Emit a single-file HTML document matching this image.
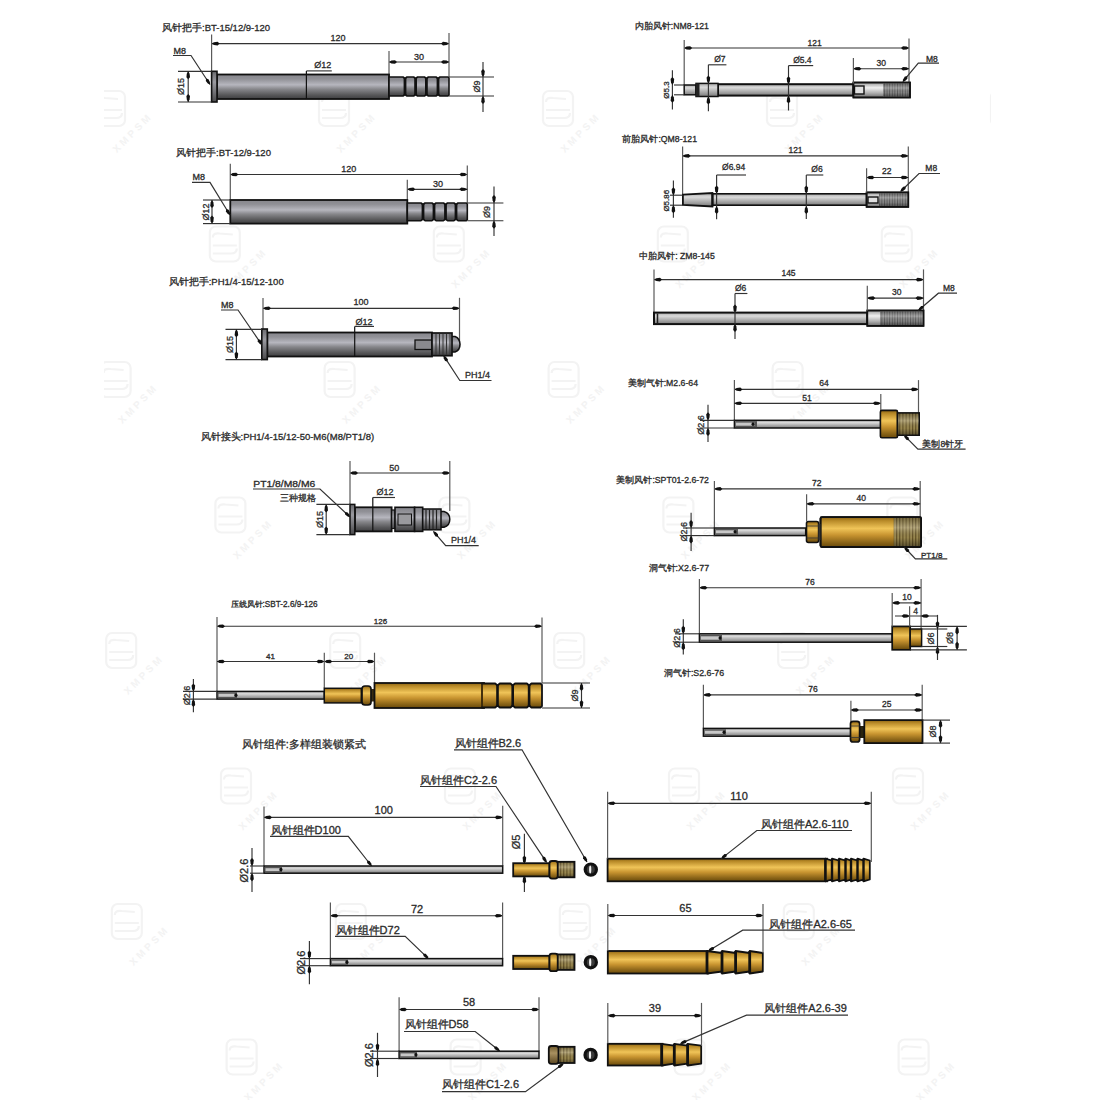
<!DOCTYPE html><html><head><meta charset="utf-8"><style>html,body{margin:0;padding:0;background:#fff;}svg{display:block;}</style></head><body>
<svg width="1100" height="1100" viewBox="0 0 1100 1100" font-family='"Liberation Sans", sans-serif'>
<defs>
<linearGradient id="gR" x1="0" y1="0" x2="0" y2="1">
<stop offset="0" stop-color="#86868c"/><stop offset="0.18" stop-color="#909096"/><stop offset="0.42" stop-color="#b6b6be"/><stop offset="0.6" stop-color="#86868a"/><stop offset="0.85" stop-color="#555557"/><stop offset="1" stop-color="#3e3e40"/></linearGradient>
<linearGradient id="gTL" x1="0" y1="0" x2="0" y2="1">
<stop offset="0" stop-color="#9a9a9a"/><stop offset="0.35" stop-color="#f0f0f0"/><stop offset="0.7" stop-color="#b0b0b0"/><stop offset="1" stop-color="#6a6a6a"/></linearGradient>
<pattern id="pTh" width="2.6" height="20" patternUnits="userSpaceOnUse"><rect width="2.6" height="20" fill="#8e8e8e"/><rect width="1" height="20" fill="#5e5e5e"/></pattern>
<pattern id="pThG" width="3.2" height="40" patternUnits="userSpaceOnUse"><rect width="3.2" height="40" fill="#a08e54"/><rect width="1.1" height="40" fill="#665426"/></pattern>
<linearGradient id="gShade" x1="0" y1="0" x2="0" y2="1">
<stop offset="0" stop-color="#000" stop-opacity="0.25"/><stop offset="0.35" stop-color="#fff" stop-opacity="0.25"/><stop offset="0.7" stop-color="#000" stop-opacity="0.05"/><stop offset="1" stop-color="#000" stop-opacity="0.4"/></linearGradient>
<linearGradient id="gRT" x1="0" y1="0" x2="0" y2="1">
<stop offset="0" stop-color="#6a6a6e"/><stop offset="0.35" stop-color="#9a9aa0"/><stop offset="1" stop-color="#4a4a4c"/></linearGradient>
<linearGradient id="gN" x1="0" y1="0" x2="0" y2="1">
<stop offset="0" stop-color="#a8a8a8"/><stop offset="0.3" stop-color="#dadada"/><stop offset="0.7" stop-color="#a4a4a4"/><stop offset="1" stop-color="#7a7a7a"/></linearGradient>
<linearGradient id="gND" x1="0" y1="0" x2="0" y2="1">
<stop offset="0" stop-color="#666"/><stop offset="0.5" stop-color="#999"/><stop offset="1" stop-color="#555"/></linearGradient>
<linearGradient id="gG" x1="0" y1="0" x2="0" y2="1">
<stop offset="0" stop-color="#8c6414"/><stop offset="0.12" stop-color="#b88a28"/><stop offset="0.38" stop-color="#f0c458"/><stop offset="0.6" stop-color="#c89430"/><stop offset="0.85" stop-color="#8a6418"/><stop offset="1" stop-color="#6a4a0a"/></linearGradient>
<linearGradient id="gT" x1="0" y1="0" x2="0" y2="1">
<stop offset="0" stop-color="#6f5a2c"/><stop offset="0.4" stop-color="#a89060"/><stop offset="1" stop-color="#5a4620"/></linearGradient>
</defs>
<rect width="1100" height="1100" fill="#fff"/>
<clipPath id="wmclip"><rect x="104" y="0" width="887" height="1100"/></clipPath><g clip-path="url(#wmclip)">
<g stroke="#f3f3f3" stroke-width="2.2" fill="none"><rect x="95.0" y="91.0" width="30" height="35" rx="6"/><path d="M98.0,102.0 Q98.0,97.0 105.0,98.0 L118.0,99.0 M98.0,110.0 L122.0,110.0 M98.0,118.0 L116.0,118.0 Q122.0,118.0 122.0,113.0"/></g>
<text x="135.0" y="135.0" font-size="10" font-weight="bold" fill="#f3f3f3" text-anchor="middle" letter-spacing="3" transform="rotate(-45 135.0 135.0)">XMPSM</text>
<g stroke="#f3f3f3" stroke-width="2.2" fill="none"><rect x="319.0" y="91.0" width="30" height="35" rx="6"/><path d="M322.0,102.0 Q322.0,97.0 329.0,98.0 L342.0,99.0 M322.0,110.0 L346.0,110.0 M322.0,118.0 L340.0,118.0 Q346.0,118.0 346.0,113.0"/></g>
<text x="359.0" y="135.0" font-size="10" font-weight="bold" fill="#f3f3f3" text-anchor="middle" letter-spacing="3" transform="rotate(-45 359.0 135.0)">XMPSM</text>
<g stroke="#f3f3f3" stroke-width="2.2" fill="none"><rect x="543.0" y="91.0" width="30" height="35" rx="6"/><path d="M546.0,102.0 Q546.0,97.0 553.0,98.0 L566.0,99.0 M546.0,110.0 L570.0,110.0 M546.0,118.0 L564.0,118.0 Q570.0,118.0 570.0,113.0"/></g>
<text x="583.0" y="135.0" font-size="10" font-weight="bold" fill="#f3f3f3" text-anchor="middle" letter-spacing="3" transform="rotate(-45 583.0 135.0)">XMPSM</text>
<g stroke="#f3f3f3" stroke-width="2.2" fill="none"><rect x="767.0" y="91.0" width="30" height="35" rx="6"/><path d="M770.0,102.0 Q770.0,97.0 777.0,98.0 L790.0,99.0 M770.0,110.0 L794.0,110.0 M770.0,118.0 L788.0,118.0 Q794.0,118.0 794.0,113.0"/></g>
<text x="807.0" y="135.0" font-size="10" font-weight="bold" fill="#f3f3f3" text-anchor="middle" letter-spacing="3" transform="rotate(-45 807.0 135.0)">XMPSM</text>
<g stroke="#f3f3f3" stroke-width="2.2" fill="none"><rect x="991.0" y="91.0" width="30" height="35" rx="6"/><path d="M994.0,102.0 Q994.0,97.0 1001.0,98.0 L1014.0,99.0 M994.0,110.0 L1018.0,110.0 M994.0,118.0 L1012.0,118.0 Q1018.0,118.0 1018.0,113.0"/></g>
<text x="1031.0" y="135.0" font-size="10" font-weight="bold" fill="#f3f3f3" text-anchor="middle" letter-spacing="3" transform="rotate(-45 1031.0 135.0)">XMPSM</text>
<g stroke="#f3f3f3" stroke-width="2.2" fill="none"><rect x="209.8" y="226.5" width="30" height="35" rx="6"/><path d="M212.8,237.5 Q212.8,232.5 219.8,233.5 L232.8,234.5 M212.8,245.5 L236.8,245.5 M212.8,253.5 L230.8,253.5 Q236.8,253.5 236.8,248.5"/></g>
<text x="249.8" y="270.5" font-size="10" font-weight="bold" fill="#f3f3f3" text-anchor="middle" letter-spacing="3" transform="rotate(-45 249.8 270.5)">XMPSM</text>
<g stroke="#f3f3f3" stroke-width="2.2" fill="none"><rect x="433.8" y="226.5" width="30" height="35" rx="6"/><path d="M436.8,237.5 Q436.8,232.5 443.8,233.5 L456.8,234.5 M436.8,245.5 L460.8,245.5 M436.8,253.5 L454.8,253.5 Q460.8,253.5 460.8,248.5"/></g>
<text x="473.8" y="270.5" font-size="10" font-weight="bold" fill="#f3f3f3" text-anchor="middle" letter-spacing="3" transform="rotate(-45 473.8 270.5)">XMPSM</text>
<g stroke="#f3f3f3" stroke-width="2.2" fill="none"><rect x="657.8" y="226.5" width="30" height="35" rx="6"/><path d="M660.8,237.5 Q660.8,232.5 667.8,233.5 L680.8,234.5 M660.8,245.5 L684.8,245.5 M660.8,253.5 L678.8,253.5 Q684.8,253.5 684.8,248.5"/></g>
<text x="697.8" y="270.5" font-size="10" font-weight="bold" fill="#f3f3f3" text-anchor="middle" letter-spacing="3" transform="rotate(-45 697.8 270.5)">XMPSM</text>
<g stroke="#f3f3f3" stroke-width="2.2" fill="none"><rect x="881.8" y="226.5" width="30" height="35" rx="6"/><path d="M884.8,237.5 Q884.8,232.5 891.8,233.5 L904.8,234.5 M884.8,245.5 L908.8,245.5 M884.8,253.5 L902.8,253.5 Q908.8,253.5 908.8,248.5"/></g>
<text x="921.8" y="270.5" font-size="10" font-weight="bold" fill="#f3f3f3" text-anchor="middle" letter-spacing="3" transform="rotate(-45 921.8 270.5)">XMPSM</text>
<g stroke="#f3f3f3" stroke-width="2.2" fill="none"><rect x="100.6" y="362.0" width="30" height="35" rx="6"/><path d="M103.6,373.0 Q103.6,368.0 110.6,369.0 L123.6,370.0 M103.6,381.0 L127.6,381.0 M103.6,389.0 L121.6,389.0 Q127.6,389.0 127.6,384.0"/></g>
<text x="140.6" y="406.0" font-size="10" font-weight="bold" fill="#f3f3f3" text-anchor="middle" letter-spacing="3" transform="rotate(-45 140.6 406.0)">XMPSM</text>
<g stroke="#f3f3f3" stroke-width="2.2" fill="none"><rect x="324.6" y="362.0" width="30" height="35" rx="6"/><path d="M327.6,373.0 Q327.6,368.0 334.6,369.0 L347.6,370.0 M327.6,381.0 L351.6,381.0 M327.6,389.0 L345.6,389.0 Q351.6,389.0 351.6,384.0"/></g>
<text x="364.6" y="406.0" font-size="10" font-weight="bold" fill="#f3f3f3" text-anchor="middle" letter-spacing="3" transform="rotate(-45 364.6 406.0)">XMPSM</text>
<g stroke="#f3f3f3" stroke-width="2.2" fill="none"><rect x="548.6" y="362.0" width="30" height="35" rx="6"/><path d="M551.6,373.0 Q551.6,368.0 558.6,369.0 L571.6,370.0 M551.6,381.0 L575.6,381.0 M551.6,389.0 L569.6,389.0 Q575.6,389.0 575.6,384.0"/></g>
<text x="588.6" y="406.0" font-size="10" font-weight="bold" fill="#f3f3f3" text-anchor="middle" letter-spacing="3" transform="rotate(-45 588.6 406.0)">XMPSM</text>
<g stroke="#f3f3f3" stroke-width="2.2" fill="none"><rect x="772.6" y="362.0" width="30" height="35" rx="6"/><path d="M775.6,373.0 Q775.6,368.0 782.6,369.0 L795.6,370.0 M775.6,381.0 L799.6,381.0 M775.6,389.0 L793.6,389.0 Q799.6,389.0 799.6,384.0"/></g>
<text x="812.6" y="406.0" font-size="10" font-weight="bold" fill="#f3f3f3" text-anchor="middle" letter-spacing="3" transform="rotate(-45 812.6 406.0)">XMPSM</text>
<g stroke="#f3f3f3" stroke-width="2.2" fill="none"><rect x="996.6" y="362.0" width="30" height="35" rx="6"/><path d="M999.6,373.0 Q999.6,368.0 1006.6,369.0 L1019.6,370.0 M999.6,381.0 L1023.6,381.0 M999.6,389.0 L1017.6,389.0 Q1023.6,389.0 1023.6,384.0"/></g>
<text x="1036.6" y="406.0" font-size="10" font-weight="bold" fill="#f3f3f3" text-anchor="middle" letter-spacing="3" transform="rotate(-45 1036.6 406.0)">XMPSM</text>
<g stroke="#f3f3f3" stroke-width="2.2" fill="none"><rect x="215.4" y="497.5" width="30" height="35" rx="6"/><path d="M218.4,508.5 Q218.4,503.5 225.4,504.5 L238.4,505.5 M218.4,516.5 L242.4,516.5 M218.4,524.5 L236.4,524.5 Q242.4,524.5 242.4,519.5"/></g>
<text x="255.4" y="541.5" font-size="10" font-weight="bold" fill="#f3f3f3" text-anchor="middle" letter-spacing="3" transform="rotate(-45 255.4 541.5)">XMPSM</text>
<g stroke="#f3f3f3" stroke-width="2.2" fill="none"><rect x="439.4" y="497.5" width="30" height="35" rx="6"/><path d="M442.4,508.5 Q442.4,503.5 449.4,504.5 L462.4,505.5 M442.4,516.5 L466.4,516.5 M442.4,524.5 L460.4,524.5 Q466.4,524.5 466.4,519.5"/></g>
<text x="479.4" y="541.5" font-size="10" font-weight="bold" fill="#f3f3f3" text-anchor="middle" letter-spacing="3" transform="rotate(-45 479.4 541.5)">XMPSM</text>
<g stroke="#f3f3f3" stroke-width="2.2" fill="none"><rect x="663.4" y="497.5" width="30" height="35" rx="6"/><path d="M666.4,508.5 Q666.4,503.5 673.4,504.5 L686.4,505.5 M666.4,516.5 L690.4,516.5 M666.4,524.5 L684.4,524.5 Q690.4,524.5 690.4,519.5"/></g>
<text x="703.4" y="541.5" font-size="10" font-weight="bold" fill="#f3f3f3" text-anchor="middle" letter-spacing="3" transform="rotate(-45 703.4 541.5)">XMPSM</text>
<g stroke="#f3f3f3" stroke-width="2.2" fill="none"><rect x="887.4" y="497.5" width="30" height="35" rx="6"/><path d="M890.4,508.5 Q890.4,503.5 897.4,504.5 L910.4,505.5 M890.4,516.5 L914.4,516.5 M890.4,524.5 L908.4,524.5 Q914.4,524.5 914.4,519.5"/></g>
<text x="927.4" y="541.5" font-size="10" font-weight="bold" fill="#f3f3f3" text-anchor="middle" letter-spacing="3" transform="rotate(-45 927.4 541.5)">XMPSM</text>
<g stroke="#f3f3f3" stroke-width="2.2" fill="none"><rect x="106.2" y="633.0" width="30" height="35" rx="6"/><path d="M109.2,644.0 Q109.2,639.0 116.2,640.0 L129.2,641.0 M109.2,652.0 L133.2,652.0 M109.2,660.0 L127.2,660.0 Q133.2,660.0 133.2,655.0"/></g>
<text x="146.2" y="677.0" font-size="10" font-weight="bold" fill="#f3f3f3" text-anchor="middle" letter-spacing="3" transform="rotate(-45 146.2 677.0)">XMPSM</text>
<g stroke="#f3f3f3" stroke-width="2.2" fill="none"><rect x="330.2" y="633.0" width="30" height="35" rx="6"/><path d="M333.2,644.0 Q333.2,639.0 340.2,640.0 L353.2,641.0 M333.2,652.0 L357.2,652.0 M333.2,660.0 L351.2,660.0 Q357.2,660.0 357.2,655.0"/></g>
<text x="370.2" y="677.0" font-size="10" font-weight="bold" fill="#f3f3f3" text-anchor="middle" letter-spacing="3" transform="rotate(-45 370.2 677.0)">XMPSM</text>
<g stroke="#f3f3f3" stroke-width="2.2" fill="none"><rect x="554.2" y="633.0" width="30" height="35" rx="6"/><path d="M557.2,644.0 Q557.2,639.0 564.2,640.0 L577.2,641.0 M557.2,652.0 L581.2,652.0 M557.2,660.0 L575.2,660.0 Q581.2,660.0 581.2,655.0"/></g>
<text x="594.2" y="677.0" font-size="10" font-weight="bold" fill="#f3f3f3" text-anchor="middle" letter-spacing="3" transform="rotate(-45 594.2 677.0)">XMPSM</text>
<g stroke="#f3f3f3" stroke-width="2.2" fill="none"><rect x="778.2" y="633.0" width="30" height="35" rx="6"/><path d="M781.2,644.0 Q781.2,639.0 788.2,640.0 L801.2,641.0 M781.2,652.0 L805.2,652.0 M781.2,660.0 L799.2,660.0 Q805.2,660.0 805.2,655.0"/></g>
<text x="818.2" y="677.0" font-size="10" font-weight="bold" fill="#f3f3f3" text-anchor="middle" letter-spacing="3" transform="rotate(-45 818.2 677.0)">XMPSM</text>
<g stroke="#f3f3f3" stroke-width="2.2" fill="none"><rect x="1002.2" y="633.0" width="30" height="35" rx="6"/><path d="M1005.2,644.0 Q1005.2,639.0 1012.2,640.0 L1025.2,641.0 M1005.2,652.0 L1029.2,652.0 M1005.2,660.0 L1023.2,660.0 Q1029.2,660.0 1029.2,655.0"/></g>
<text x="1042.2" y="677.0" font-size="10" font-weight="bold" fill="#f3f3f3" text-anchor="middle" letter-spacing="3" transform="rotate(-45 1042.2 677.0)">XMPSM</text>
<g stroke="#f3f3f3" stroke-width="2.2" fill="none"><rect x="221.0" y="768.5" width="30" height="35" rx="6"/><path d="M224.0,779.5 Q224.0,774.5 231.0,775.5 L244.0,776.5 M224.0,787.5 L248.0,787.5 M224.0,795.5 L242.0,795.5 Q248.0,795.5 248.0,790.5"/></g>
<text x="261.0" y="812.5" font-size="10" font-weight="bold" fill="#f3f3f3" text-anchor="middle" letter-spacing="3" transform="rotate(-45 261.0 812.5)">XMPSM</text>
<g stroke="#f3f3f3" stroke-width="2.2" fill="none"><rect x="445.0" y="768.5" width="30" height="35" rx="6"/><path d="M448.0,779.5 Q448.0,774.5 455.0,775.5 L468.0,776.5 M448.0,787.5 L472.0,787.5 M448.0,795.5 L466.0,795.5 Q472.0,795.5 472.0,790.5"/></g>
<text x="485.0" y="812.5" font-size="10" font-weight="bold" fill="#f3f3f3" text-anchor="middle" letter-spacing="3" transform="rotate(-45 485.0 812.5)">XMPSM</text>
<g stroke="#f3f3f3" stroke-width="2.2" fill="none"><rect x="669.0" y="768.5" width="30" height="35" rx="6"/><path d="M672.0,779.5 Q672.0,774.5 679.0,775.5 L692.0,776.5 M672.0,787.5 L696.0,787.5 M672.0,795.5 L690.0,795.5 Q696.0,795.5 696.0,790.5"/></g>
<text x="709.0" y="812.5" font-size="10" font-weight="bold" fill="#f3f3f3" text-anchor="middle" letter-spacing="3" transform="rotate(-45 709.0 812.5)">XMPSM</text>
<g stroke="#f3f3f3" stroke-width="2.2" fill="none"><rect x="893.0" y="768.5" width="30" height="35" rx="6"/><path d="M896.0,779.5 Q896.0,774.5 903.0,775.5 L916.0,776.5 M896.0,787.5 L920.0,787.5 M896.0,795.5 L914.0,795.5 Q920.0,795.5 920.0,790.5"/></g>
<text x="933.0" y="812.5" font-size="10" font-weight="bold" fill="#f3f3f3" text-anchor="middle" letter-spacing="3" transform="rotate(-45 933.0 812.5)">XMPSM</text>
<g stroke="#f3f3f3" stroke-width="2.2" fill="none"><rect x="111.8" y="904.0" width="30" height="35" rx="6"/><path d="M114.8,915.0 Q114.8,910.0 121.8,911.0 L134.8,912.0 M114.8,923.0 L138.8,923.0 M114.8,931.0 L132.8,931.0 Q138.8,931.0 138.8,926.0"/></g>
<text x="151.8" y="948.0" font-size="10" font-weight="bold" fill="#f3f3f3" text-anchor="middle" letter-spacing="3" transform="rotate(-45 151.8 948.0)">XMPSM</text>
<g stroke="#f3f3f3" stroke-width="2.2" fill="none"><rect x="335.8" y="904.0" width="30" height="35" rx="6"/><path d="M338.8,915.0 Q338.8,910.0 345.8,911.0 L358.8,912.0 M338.8,923.0 L362.8,923.0 M338.8,931.0 L356.8,931.0 Q362.8,931.0 362.8,926.0"/></g>
<text x="375.8" y="948.0" font-size="10" font-weight="bold" fill="#f3f3f3" text-anchor="middle" letter-spacing="3" transform="rotate(-45 375.8 948.0)">XMPSM</text>
<g stroke="#f3f3f3" stroke-width="2.2" fill="none"><rect x="559.8" y="904.0" width="30" height="35" rx="6"/><path d="M562.8,915.0 Q562.8,910.0 569.8,911.0 L582.8,912.0 M562.8,923.0 L586.8,923.0 M562.8,931.0 L580.8,931.0 Q586.8,931.0 586.8,926.0"/></g>
<text x="599.8" y="948.0" font-size="10" font-weight="bold" fill="#f3f3f3" text-anchor="middle" letter-spacing="3" transform="rotate(-45 599.8 948.0)">XMPSM</text>
<g stroke="#f3f3f3" stroke-width="2.2" fill="none"><rect x="783.8" y="904.0" width="30" height="35" rx="6"/><path d="M786.8,915.0 Q786.8,910.0 793.8,911.0 L806.8,912.0 M786.8,923.0 L810.8,923.0 M786.8,931.0 L804.8,931.0 Q810.8,931.0 810.8,926.0"/></g>
<text x="823.8" y="948.0" font-size="10" font-weight="bold" fill="#f3f3f3" text-anchor="middle" letter-spacing="3" transform="rotate(-45 823.8 948.0)">XMPSM</text>
<g stroke="#f3f3f3" stroke-width="2.2" fill="none"><rect x="1007.8" y="904.0" width="30" height="35" rx="6"/><path d="M1010.8,915.0 Q1010.8,910.0 1017.8,911.0 L1030.8,912.0 M1010.8,923.0 L1034.8,923.0 M1010.8,931.0 L1028.8,931.0 Q1034.8,931.0 1034.8,926.0"/></g>
<text x="1047.8" y="948.0" font-size="10" font-weight="bold" fill="#f3f3f3" text-anchor="middle" letter-spacing="3" transform="rotate(-45 1047.8 948.0)">XMPSM</text>
<g stroke="#f3f3f3" stroke-width="2.2" fill="none"><rect x="226.6" y="1039.5" width="30" height="35" rx="6"/><path d="M229.6,1050.5 Q229.6,1045.5 236.6,1046.5 L249.6,1047.5 M229.6,1058.5 L253.6,1058.5 M229.6,1066.5 L247.6,1066.5 Q253.6,1066.5 253.6,1061.5"/></g>
<text x="266.6" y="1083.5" font-size="10" font-weight="bold" fill="#f3f3f3" text-anchor="middle" letter-spacing="3" transform="rotate(-45 266.6 1083.5)">XMPSM</text>
<g stroke="#f3f3f3" stroke-width="2.2" fill="none"><rect x="450.6" y="1039.5" width="30" height="35" rx="6"/><path d="M453.6,1050.5 Q453.6,1045.5 460.6,1046.5 L473.6,1047.5 M453.6,1058.5 L477.6,1058.5 M453.6,1066.5 L471.6,1066.5 Q477.6,1066.5 477.6,1061.5"/></g>
<text x="490.6" y="1083.5" font-size="10" font-weight="bold" fill="#f3f3f3" text-anchor="middle" letter-spacing="3" transform="rotate(-45 490.6 1083.5)">XMPSM</text>
<g stroke="#f3f3f3" stroke-width="2.2" fill="none"><rect x="674.6" y="1039.5" width="30" height="35" rx="6"/><path d="M677.6,1050.5 Q677.6,1045.5 684.6,1046.5 L697.6,1047.5 M677.6,1058.5 L701.6,1058.5 M677.6,1066.5 L695.6,1066.5 Q701.6,1066.5 701.6,1061.5"/></g>
<text x="714.6" y="1083.5" font-size="10" font-weight="bold" fill="#f3f3f3" text-anchor="middle" letter-spacing="3" transform="rotate(-45 714.6 1083.5)">XMPSM</text>
<g stroke="#f3f3f3" stroke-width="2.2" fill="none"><rect x="898.6" y="1039.5" width="30" height="35" rx="6"/><path d="M901.6,1050.5 Q901.6,1045.5 908.6,1046.5 L921.6,1047.5 M901.6,1058.5 L925.6,1058.5 M901.6,1066.5 L919.6,1066.5 Q925.6,1066.5 925.6,1061.5"/></g>
<text x="938.6" y="1083.5" font-size="10" font-weight="bold" fill="#f3f3f3" text-anchor="middle" letter-spacing="3" transform="rotate(-45 938.6 1083.5)">XMPSM</text>
</g>
<text x="162" y="30.5" font-size="9.5" text-anchor="start" fill="#2a2a2a" stroke="#2a2a2a" stroke-width="0.3">风针把手:BT-15/12/9-120</text>
<line x1="211.6" y1="43.6" x2="449" y2="43.6" stroke="#333" stroke-width="1.15"/>
<polygon points="211.6,43.6 214.0,42.2 217.6,41.8 219.6,43.6 217.6,45.4 214.0,45.0" fill="#111"/>
<polygon points="449.0,43.6 446.6,45.0 443.0,45.4 441.0,43.6 443.0,41.8 446.6,42.2" fill="#111"/>
<text x="338" y="41" font-size="9" text-anchor="middle" fill="#2a2a2a" stroke="#2a2a2a" stroke-width="0.3">120</text>
<line x1="211.6" y1="34.5" x2="211.6" y2="71" stroke="#5a5a5a" stroke-width="1.2"/>
<line x1="449" y1="33" x2="449" y2="77" stroke="#5a5a5a" stroke-width="1.2"/>
<line x1="389" y1="62" x2="449" y2="62" stroke="#333" stroke-width="1.15"/>
<polygon points="389.0,62.0 391.4,60.6 395.0,60.2 397.0,62.0 395.0,63.8 391.4,63.4" fill="#111"/>
<polygon points="449.0,62.0 446.6,63.4 443.0,63.8 441.0,62.0 443.0,60.2 446.6,60.6" fill="#111"/>
<text x="419" y="59.5" font-size="9" text-anchor="middle" fill="#2a2a2a" stroke="#2a2a2a" stroke-width="0.3">30</text>
<line x1="389" y1="51" x2="389" y2="77" stroke="#5a5a5a" stroke-width="1.2"/>
<rect x="217" y="74.5" width="172.00" height="24.50" fill="url(#gR)" stroke="#111" stroke-width="1.8" rx="0"/>
<polygon points="389.0,77.0 403.0,77.0 405.0,78.5 407.0,77.0 413.6,77.0 415.6,78.5 417.6,77.0 424.4,77.0 426.4,78.5 428.4,77.0 436.0,77.0 438.0,78.5 440.0,77.0 448.0,77.0 449.0,78.0 449.0,95.0 448.0,96.0 440.0,96.0 438.0,94.5 436.0,96.0 428.4,96.0 426.4,94.5 424.4,96.0 417.6,96.0 415.6,94.5 413.6,96.0 407.0,96.0 405.0,94.5 403.0,96.0 389.0,96.0" fill="url(#gR)" stroke="#111" stroke-width="1.6" stroke-linejoin="round"/>
<rect x="403.6" y="77.8" width="2.8" height="17.5" fill="#111"/>
<rect x="414.2" y="77.8" width="2.8" height="17.5" fill="#111"/>
<rect x="425.0" y="77.8" width="2.8" height="17.5" fill="#111"/>
<rect x="436.6" y="77.8" width="2.8" height="17.5" fill="#111"/>
<rect x="211.6" y="71.3" width="5.40" height="30.70" fill="url(#gRT)" stroke="#111" stroke-width="1.6" rx="0"/>
<line x1="306.4" y1="71" x2="306.4" y2="99" stroke="#111" stroke-width="1.2"/>
<text x="322.7" y="68" font-size="9" text-anchor="middle" fill="#2a2a2a" stroke="#2a2a2a" stroke-width="0.3">Ø12</text>
<line x1="306.4" y1="70.9" x2="331.8" y2="70.9" stroke="#333" stroke-width="1.15"/>
<line x1="178" y1="71.3" x2="211.6" y2="71.3" stroke="#333" stroke-width="1.15"/>
<line x1="178" y1="102" x2="211.6" y2="102" stroke="#333" stroke-width="1.15"/>
<line x1="188.2" y1="71.3" x2="188.2" y2="102" stroke="#333" stroke-width="1.15"/>
<polygon points="188.2,71.3 189.6,73.7 190.0,77.3 188.2,79.3 186.4,77.3 186.8,73.7" fill="#111"/>
<polygon points="188.2,102.0 186.8,99.6 186.4,96.0 188.2,94.0 190.0,96.0 189.6,99.6" fill="#111"/>
<text x="184.5" y="86.6" font-size="9" text-anchor="middle" fill="#2a2a2a" stroke="#2a2a2a" stroke-width="0.3" transform="rotate(-90 184.5 86.6)">Ø15</text>
<text x="173.5" y="53.5" font-size="9" text-anchor="start" fill="#2a2a2a" stroke="#2a2a2a" stroke-width="0.3">M8</text>
<polyline points="173,55.5 191,55.5 210,84.5" fill="none" stroke="#333" stroke-width="1.2"/>
<polygon points="210.0,84.5 207.8,83.4 205.8,81.0 206.2,78.6 208.5,79.2 209.9,82.0" fill="#111"/>
<line x1="449" y1="77" x2="494" y2="77" stroke="#333" stroke-width="1.15"/>
<line x1="449" y1="96" x2="494" y2="96" stroke="#333" stroke-width="1.15"/>
<line x1="483" y1="62" x2="483" y2="112" stroke="#333" stroke-width="1.15"/>
<polygon points="483.0,77.0 481.6,74.6 481.2,71.0 483.0,69.0 484.8,71.0 484.4,74.6" fill="#111"/>
<polygon points="483.0,96.0 484.4,98.4 484.8,102.0 483.0,104.0 481.2,102.0 481.6,98.4" fill="#111"/>
<text x="479.5" y="86.5" font-size="9" text-anchor="middle" fill="#2a2a2a" stroke="#2a2a2a" stroke-width="0.3" transform="rotate(-90 479.5 86.5)">Ø9</text>
<text x="176" y="155.5" font-size="9.5" text-anchor="start" fill="#2a2a2a" stroke="#2a2a2a" stroke-width="0.3">风针把手:BT-12/9-120</text>
<line x1="230.3" y1="174.5" x2="467.3" y2="174.5" stroke="#333" stroke-width="1.15"/>
<polygon points="230.3,174.5 232.7,173.1 236.3,172.7 238.3,174.5 236.3,176.3 232.7,175.9" fill="#111"/>
<polygon points="467.3,174.5 464.9,175.9 461.3,176.3 459.3,174.5 461.3,172.7 464.9,173.1" fill="#111"/>
<text x="348.7" y="172" font-size="9" text-anchor="middle" fill="#2a2a2a" stroke="#2a2a2a" stroke-width="0.3">120</text>
<line x1="230.3" y1="163.8" x2="230.3" y2="200" stroke="#5a5a5a" stroke-width="1.2"/>
<line x1="467.3" y1="165.5" x2="467.3" y2="203" stroke="#5a5a5a" stroke-width="1.2"/>
<line x1="407.3" y1="189.3" x2="467.3" y2="189.3" stroke="#333" stroke-width="1.15"/>
<polygon points="407.3,189.3 409.7,187.9 413.3,187.5 415.3,189.3 413.3,191.1 409.7,190.7" fill="#111"/>
<polygon points="467.3,189.3 464.9,190.7 461.3,191.1 459.3,189.3 461.3,187.5 464.9,187.9" fill="#111"/>
<text x="438" y="186.5" font-size="9" text-anchor="middle" fill="#2a2a2a" stroke="#2a2a2a" stroke-width="0.3">30</text>
<line x1="407.3" y1="179.8" x2="407.3" y2="200" stroke="#5a5a5a" stroke-width="1.2"/>
<rect x="230.3" y="200" width="177.00" height="23.60" fill="url(#gR)" stroke="#111" stroke-width="1.8" rx="0"/>
<polygon points="407.3,203.0 421.0,203.0 423.0,204.5 425.0,203.0 432.0,203.0 434.0,204.5 436.0,203.0 443.5,203.0 445.5,204.5 447.5,203.0 454.0,203.0 456.0,204.5 458.0,203.0 466.3,203.0 467.3,204.0 467.3,219.7 466.3,220.7 458.0,220.7 456.0,219.2 454.0,220.7 447.5,220.7 445.5,219.2 443.5,220.7 436.0,220.7 434.0,219.2 432.0,220.7 425.0,220.7 423.0,219.2 421.0,220.7 407.3,220.7" fill="url(#gR)" stroke="#111" stroke-width="1.6" stroke-linejoin="round"/>
<rect x="421.6" y="203.8" width="2.8" height="16.2" fill="#111"/>
<rect x="432.6" y="203.8" width="2.8" height="16.2" fill="#111"/>
<rect x="444.1" y="203.8" width="2.8" height="16.2" fill="#111"/>
<rect x="454.6" y="203.8" width="2.8" height="16.2" fill="#111"/>
<text x="192.5" y="179.5" font-size="9" text-anchor="start" fill="#2a2a2a" stroke="#2a2a2a" stroke-width="0.3">M8</text>
<polyline points="192,182.4 210,182.4 230,215" fill="none" stroke="#333" stroke-width="1.2"/>
<polygon points="230.0,215.0 227.8,213.9 225.9,211.4 226.3,209.0 228.6,209.7 230.0,212.5" fill="#111"/>
<line x1="203" y1="200" x2="230.3" y2="200" stroke="#333" stroke-width="1.15"/>
<line x1="203" y1="223.6" x2="230.3" y2="223.6" stroke="#333" stroke-width="1.15"/>
<line x1="212" y1="200" x2="212" y2="223.6" stroke="#333" stroke-width="1.15"/>
<polygon points="212.0,200.0 213.4,202.4 213.8,206.0 212.0,208.0 210.2,206.0 210.6,202.4" fill="#111"/>
<polygon points="212.0,223.6 210.6,221.2 210.2,217.6 212.0,215.6 213.8,217.6 213.4,221.2" fill="#111"/>
<text x="208.5" y="212" font-size="9" text-anchor="middle" fill="#2a2a2a" stroke="#2a2a2a" stroke-width="0.3" transform="rotate(-90 208.5 212)">Ø12</text>
<line x1="467.3" y1="203" x2="503.4" y2="203" stroke="#333" stroke-width="1.15"/>
<line x1="467.3" y1="220.7" x2="503.4" y2="220.7" stroke="#333" stroke-width="1.15"/>
<line x1="494" y1="186.6" x2="494" y2="236" stroke="#333" stroke-width="1.15"/>
<polygon points="494.0,203.0 492.6,200.6 492.2,197.0 494.0,195.0 495.8,197.0 495.4,200.6" fill="#111"/>
<polygon points="494.0,220.7 495.4,223.1 495.8,226.7 494.0,228.7 492.2,226.7 492.6,223.1" fill="#111"/>
<text x="490" y="212" font-size="9" text-anchor="middle" fill="#2a2a2a" stroke="#2a2a2a" stroke-width="0.3" transform="rotate(-90 490 212)">Ø9</text>
<text x="168.7" y="284.5" font-size="9.5" text-anchor="start" fill="#2a2a2a" stroke="#2a2a2a" stroke-width="0.3">风针把手:PH1/4-15/12-100</text>
<line x1="263" y1="308.3" x2="459.5" y2="308.3" stroke="#333" stroke-width="1.15"/>
<polygon points="263.0,308.3 265.4,306.9 269.0,306.5 271.0,308.3 269.0,310.1 265.4,309.7" fill="#111"/>
<polygon points="459.5,308.3 457.1,309.7 453.5,310.1 451.5,308.3 453.5,306.5 457.1,306.9" fill="#111"/>
<text x="361" y="305" font-size="9" text-anchor="middle" fill="#2a2a2a" stroke="#2a2a2a" stroke-width="0.3">100</text>
<line x1="263" y1="298" x2="263" y2="329" stroke="#5a5a5a" stroke-width="1.2"/>
<line x1="459.5" y1="297.8" x2="459.5" y2="340" stroke="#5a5a5a" stroke-width="1.2"/>
<rect x="267.3" y="332.5" width="164.70" height="24.00" fill="url(#gR)" stroke="#111" stroke-width="1.8" rx="0"/>
<rect x="415" y="340" width="17.00" height="9.50" fill="#8a8a8e" stroke="#111" stroke-width="1.3" rx="0"/>
<path d="M451,336.5 L455,336.5 Q460,338.5 460,344.3 Q460,350.3 455,352 L451,352 Z" fill="url(#gR)" stroke="#111" stroke-width="1.6"/>
<rect x="432" y="333" width="20.00" height="22.70" fill="url(#gR)" stroke="#111" stroke-width="1.7" rx="0"/>
<line x1="436" y1="334" x2="436" y2="355" stroke="#333" stroke-width="1"/>
<line x1="439.5" y1="334" x2="439.5" y2="355" stroke="#333" stroke-width="1"/>
<line x1="443" y1="334" x2="443" y2="355" stroke="#333" stroke-width="1"/>
<line x1="446.5" y1="334" x2="446.5" y2="355" stroke="#333" stroke-width="1"/>
<line x1="450" y1="334" x2="450" y2="355" stroke="#333" stroke-width="1"/>
<rect x="261.8" y="329" width="5.50" height="30.60" fill="url(#gRT)" stroke="#111" stroke-width="1.6" rx="0"/>
<line x1="354.7" y1="326.4" x2="354.7" y2="356.5" stroke="#111" stroke-width="1.2"/>
<text x="364" y="324.5" font-size="9" text-anchor="middle" fill="#2a2a2a" stroke="#2a2a2a" stroke-width="0.3">Ø12</text>
<line x1="354.7" y1="326.4" x2="374" y2="326.4" stroke="#333" stroke-width="1.15"/>
<text x="221" y="307.5" font-size="9" text-anchor="start" fill="#2a2a2a" stroke="#2a2a2a" stroke-width="0.3">M8</text>
<polyline points="221,310 238,310 262,345" fill="none" stroke="#333" stroke-width="1.2"/>
<polygon points="262.0,345.0 259.8,344.0 257.7,341.6 258.0,339.2 260.4,339.8 261.9,342.5" fill="#111"/>
<line x1="225.5" y1="329.3" x2="261.8" y2="329.3" stroke="#333" stroke-width="1.15"/>
<line x1="225.5" y1="359.6" x2="261.8" y2="359.6" stroke="#333" stroke-width="1.15"/>
<line x1="236.4" y1="329.3" x2="236.4" y2="359.6" stroke="#333" stroke-width="1.15"/>
<polygon points="236.4,329.3 237.8,331.7 238.2,335.3 236.4,337.3 234.6,335.3 235.0,331.7" fill="#111"/>
<polygon points="236.4,359.6 235.0,357.2 234.6,353.6 236.4,351.6 238.2,353.6 237.8,357.2" fill="#111"/>
<text x="233" y="344.5" font-size="9" text-anchor="middle" fill="#2a2a2a" stroke="#2a2a2a" stroke-width="0.3" transform="rotate(-90 233 344.5)">Ø15</text>
<polyline points="491.5,380.5 459.8,380.5 443.6,355.7" fill="none" stroke="#333" stroke-width="1.2"/>
<polygon points="443.6,355.7 445.8,356.8 447.8,359.2 447.4,361.6 445.1,361.0 443.7,358.2" fill="#111"/>
<text x="465" y="377.5" font-size="9" text-anchor="start" fill="#2a2a2a" stroke="#2a2a2a" stroke-width="0.3">PH1/4</text>
<text x="200.5" y="439.5" font-size="9.5" text-anchor="start" fill="#2a2a2a" stroke="#2a2a2a" stroke-width="0.3">风针接头:PH1/4-15/12-50-M6(M8/PT1/8)</text>
<line x1="350" y1="473" x2="449.8" y2="473" stroke="#333" stroke-width="1.15"/>
<polygon points="350.0,473.0 352.4,471.6 356.0,471.2 358.0,473.0 356.0,474.8 352.4,474.4" fill="#111"/>
<polygon points="449.8,473.0 447.4,474.4 443.8,474.8 441.8,473.0 443.8,471.2 447.4,471.6" fill="#111"/>
<text x="394.3" y="470.5" font-size="9" text-anchor="middle" fill="#2a2a2a" stroke="#2a2a2a" stroke-width="0.3">50</text>
<line x1="350" y1="461" x2="350" y2="504" stroke="#5a5a5a" stroke-width="1.2"/>
<line x1="449.8" y1="461" x2="449.8" y2="511" stroke="#5a5a5a" stroke-width="1.2"/>
<rect x="355" y="507.3" width="36.60" height="24.10" fill="url(#gR)" stroke="#111" stroke-width="1.8" rx="0"/>
<rect x="391.6" y="510" width="3.40" height="18.50" fill="url(#gRT)" stroke="#111" stroke-width="1.2" rx="0"/>
<rect x="395" y="507.3" width="19.60" height="24.10" fill="url(#gR)" stroke="#111" stroke-width="1.6" rx="0"/>
<rect x="398" y="514" width="13.50" height="11.00" fill="#9a9a9e" stroke="#111" stroke-width="1" rx="0"/>
<rect x="414.6" y="507.3" width="8.10" height="24.10" fill="url(#gR)" stroke="#111" stroke-width="1.6" rx="0"/>
<path d="M440,511.5 L444,511.5 Q449.8,513 449.8,519.3 Q449.8,525.8 444,527.2 L440,527.2 Z" fill="url(#gR)" stroke="#111" stroke-width="1.5"/>
<rect x="422.7" y="509" width="18.30" height="20.80" fill="url(#gR)" stroke="#111" stroke-width="1.5" rx="0"/>
<line x1="426" y1="509.5" x2="426" y2="529.3" stroke="#222" stroke-width="1.2"/>
<line x1="429.5" y1="509.5" x2="429.5" y2="529.3" stroke="#222" stroke-width="1.2"/>
<line x1="433" y1="509.5" x2="433" y2="529.3" stroke="#222" stroke-width="1.2"/>
<line x1="436.5" y1="509.5" x2="436.5" y2="529.3" stroke="#222" stroke-width="1.2"/>
<rect x="350" y="504.4" width="4.80" height="30.20" fill="url(#gRT)" stroke="#111" stroke-width="1.5" rx="0"/>
<line x1="372.8" y1="497.5" x2="372.8" y2="531.4" stroke="#111" stroke-width="1.2"/>
<text x="385" y="494.5" font-size="9" text-anchor="middle" fill="#2a2a2a" stroke="#2a2a2a" stroke-width="0.3">Ø12</text>
<line x1="372.8" y1="497.5" x2="395" y2="497.5" stroke="#333" stroke-width="1.15"/>
<line x1="316.4" y1="504.4" x2="350" y2="504.4" stroke="#333" stroke-width="1.15"/>
<line x1="316.4" y1="534.6" x2="350" y2="534.6" stroke="#333" stroke-width="1.15"/>
<line x1="326.2" y1="504.4" x2="326.2" y2="534.6" stroke="#333" stroke-width="1.15"/>
<polygon points="326.2,504.4 327.6,506.8 328.0,510.4 326.2,512.4 324.4,510.4 324.8,506.8" fill="#111"/>
<polygon points="326.2,534.6 324.8,532.2 324.4,528.6 326.2,526.6 328.0,528.6 327.6,532.2" fill="#111"/>
<text x="322.5" y="519.5" font-size="9" text-anchor="middle" fill="#2a2a2a" stroke="#2a2a2a" stroke-width="0.3" transform="rotate(-90 322.5 519.5)">Ø15</text>
<text x="253.3" y="486.8" font-size="9.2" text-anchor="start" fill="#2a2a2a" stroke="#2a2a2a" stroke-width="0.3" textLength="62" lengthAdjust="spacingAndGlyphs">PT1/8/M8/M6</text>
<text x="279.6" y="501" font-size="8.6" text-anchor="start" fill="#2a2a2a" stroke="#2a2a2a" stroke-width="0.3">三种规格</text>
<polyline points="253,489 320,489 350,517" fill="none" stroke="#333" stroke-width="1.2"/>
<polygon points="350.0,517.0 347.6,516.5 345.1,514.6 344.9,512.2 347.3,512.2 349.3,514.6" fill="#111"/>
<polyline points="478.7,545.6 445.7,545.6 433.4,531.4" fill="none" stroke="#333" stroke-width="1.2"/>
<polygon points="433.4,531.4 435.7,532.1 438.0,534.3 438.0,536.7 435.6,536.4 433.8,533.8" fill="#111"/>
<text x="451" y="542.8" font-size="9" text-anchor="start" fill="#2a2a2a" stroke="#2a2a2a" stroke-width="0.3">PH1/4</text>
<text x="230.6" y="607" font-size="8.2" text-anchor="start" fill="#2a2a2a" stroke="#2a2a2a" stroke-width="0.3">压线风针:SBT-2.6/9-126</text>
<line x1="217" y1="626.2" x2="542" y2="626.2" stroke="#333" stroke-width="1.15"/>
<polygon points="217.0,626.2 219.4,624.8 223.0,624.4 225.0,626.2 223.0,628.0 219.4,627.6" fill="#111"/>
<polygon points="542.0,626.2 539.6,627.6 536.0,628.0 534.0,626.2 536.0,624.4 539.6,624.8" fill="#111"/>
<text x="380.5" y="623.8" font-size="8" text-anchor="middle" fill="#2a2a2a" stroke="#2a2a2a" stroke-width="0.3">126</text>
<line x1="217" y1="617" x2="217" y2="691" stroke="#5a5a5a" stroke-width="1.2"/>
<line x1="542" y1="617.5" x2="542" y2="683" stroke="#5a5a5a" stroke-width="1.2"/>
<line x1="217" y1="661.5" x2="324.3" y2="661.5" stroke="#333" stroke-width="1.15"/>
<polygon points="217.0,661.5 219.4,660.1 223.0,659.7 225.0,661.5 223.0,663.3 219.4,662.9" fill="#111"/>
<polygon points="324.3,661.5 321.9,662.9 318.3,663.3 316.3,661.5 318.3,659.7 321.9,660.1" fill="#111"/>
<text x="270.4" y="658.6" font-size="8" text-anchor="middle" fill="#2a2a2a" stroke="#2a2a2a" stroke-width="0.3">41</text>
<line x1="324.3" y1="661.5" x2="374.5" y2="661.5" stroke="#333" stroke-width="1.15"/>
<polygon points="324.3,661.5 326.7,660.1 330.3,659.7 332.3,661.5 330.3,663.3 326.7,662.9" fill="#111"/>
<polygon points="374.5,661.5 372.1,662.9 368.5,663.3 366.5,661.5 368.5,659.7 372.1,660.1" fill="#111"/>
<text x="348.8" y="658.6" font-size="8" text-anchor="middle" fill="#2a2a2a" stroke="#2a2a2a" stroke-width="0.3">20</text>
<line x1="324.3" y1="652.7" x2="324.3" y2="688" stroke="#5a5a5a" stroke-width="1.2"/>
<line x1="374.5" y1="652.7" x2="374.5" y2="683" stroke="#5a5a5a" stroke-width="1.2"/>
<rect x="217" y="691.4" width="107.30" height="7.70" fill="url(#gN)" stroke="#111" stroke-width="1.5" rx="0"/>
<rect x="217.8" y="692.1999999999999" width="19.2" height="6.1" fill="#555"/>
<rect x="218.5" y="693.7" width="16.0" height="3.1" fill="#c8c8c8"/>
<ellipse cx="236" cy="695.25" rx="1.5" ry="1.8" fill="#111"/>
<rect x="324.3" y="688.3" width="37.00" height="14.60" fill="url(#gG)" stroke="#111" stroke-width="1.5" rx="0"/>
<rect x="370" y="689" width="5.00" height="12.50" fill="#3a2c10" stroke="#111" stroke-width="0" rx="0"/>
<rect x="362" y="686" width="9.00" height="19.00" fill="url(#gG)" stroke="#111" stroke-width="1.7" rx="3"/>
<rect x="374.5" y="683" width="109.50" height="25.00" fill="url(#gG)" stroke="#111" stroke-width="1.8" rx="0"/>
<polygon points="482.0,683.5 495.2,683.5 497.5,685.5 499.8,683.5 510.5,683.5 512.7,685.5 515.0,683.5 526.9,683.5 529.1,685.5 531.4,683.5 540.5,683.5 542.0,685.0 542.0,706.0 540.5,707.5 531.4,707.5 529.1,705.5 526.9,707.5 515.0,707.5 512.7,705.5 510.5,707.5 499.8,707.5 497.5,705.5 495.2,707.5 482.0,707.5" fill="url(#gG)" stroke="#111" stroke-width="1.8" stroke-linejoin="round"/>
<rect x="496.2" y="684.5" width="2.6" height="22.0" fill="#111"/>
<rect x="511.4" y="684.5" width="2.6" height="22.0" fill="#111"/>
<rect x="527.8" y="684.5" width="2.6" height="22.0" fill="#111"/>
<line x1="482" y1="684.5" x2="482" y2="706.5" stroke="#5a3c08" stroke-width="1.2"/>
<line x1="183" y1="691.4" x2="217" y2="691.4" stroke="#333" stroke-width="1.15"/>
<line x1="183" y1="699.1" x2="217" y2="699.1" stroke="#333" stroke-width="1.15"/>
<line x1="193.4" y1="678.9" x2="193.4" y2="712.3" stroke="#333" stroke-width="1.15"/>
<polygon points="193.4,691.4 192.0,689.0 191.6,685.4 193.4,683.4 195.2,685.4 194.8,689.0" fill="#111"/>
<polygon points="193.4,699.1 194.8,701.5 195.2,705.1 193.4,707.1 191.6,705.1 192.0,701.5" fill="#111"/>
<text x="190" y="695.5" font-size="9" text-anchor="middle" fill="#2a2a2a" stroke="#2a2a2a" stroke-width="0.3" transform="rotate(-90 190 695.5)">Ø2.6</text>
<line x1="542" y1="683" x2="590" y2="683" stroke="#333" stroke-width="1.15"/>
<line x1="542" y1="708" x2="590" y2="708" stroke="#333" stroke-width="1.15"/>
<line x1="581.5" y1="683" x2="581.5" y2="708" stroke="#333" stroke-width="1.15"/>
<polygon points="581.5,683.0 582.9,685.4 583.3,689.0 581.5,691.0 579.7,689.0 580.1,685.4" fill="#111"/>
<polygon points="581.5,708.0 580.1,705.6 579.7,702.0 581.5,700.0 583.3,702.0 582.9,705.6" fill="#111"/>
<text x="578" y="695.5" font-size="9" text-anchor="middle" fill="#2a2a2a" stroke="#2a2a2a" stroke-width="0.3" transform="rotate(-90 578 695.5)">Ø9</text>
<text x="241.8" y="747.5" font-size="11" text-anchor="start" fill="#2a2a2a" stroke="#2a2a2a" stroke-width="0.3">风针组件:多样组装锁紧式</text>
<text x="454.5" y="746.5" font-size="11" text-anchor="start" fill="#2a2a2a" stroke="#2a2a2a" stroke-width="0.3">风针组件B2.6</text>
<polyline points="454,749.8 522,749.8 587,862" fill="none" stroke="#333" stroke-width="1.2"/>
<polygon points="587.0,862.0 584.8,860.8 583.0,858.3 583.5,855.9 585.8,856.7 587.1,859.5" fill="#111"/>
<text x="420" y="784" font-size="11" text-anchor="start" fill="#2a2a2a" stroke="#2a2a2a" stroke-width="0.3">风针组件C2-2.6</text>
<polyline points="420,786.5 496,786.5 546.6,862.4" fill="none" stroke="#333" stroke-width="1.2"/>
<polygon points="546.6,862.4 544.4,861.4 542.4,858.9 542.7,856.6 545.0,857.1 546.5,859.9" fill="#111"/>
<line x1="264" y1="817.4" x2="502.7" y2="817.4" stroke="#333" stroke-width="1.15"/>
<polygon points="264.0,817.4 266.4,816.0 270.0,815.6 272.0,817.4 270.0,819.2 266.4,818.8" fill="#111"/>
<polygon points="502.7,817.4 500.3,818.8 496.7,819.2 494.7,817.4 496.7,815.6 500.3,816.0" fill="#111"/>
<text x="383.7" y="813.5" font-size="11" text-anchor="middle" fill="#2a2a2a" stroke="#2a2a2a" stroke-width="0.3">100</text>
<line x1="264" y1="806.4" x2="264" y2="866" stroke="#5a5a5a" stroke-width="1.2"/>
<line x1="502.7" y1="805.7" x2="502.7" y2="866" stroke="#5a5a5a" stroke-width="1.2"/>
<text x="270.6" y="833.5" font-size="11" text-anchor="start" fill="#2a2a2a" stroke="#2a2a2a" stroke-width="0.3">风针组件D100</text>
<polyline points="270,836.3 348.3,836.3 371.6,866" fill="none" stroke="#333" stroke-width="1.2"/>
<polygon points="371.6,866.0 369.3,865.1 367.1,862.9 367.3,860.5 369.6,860.9 371.3,863.6" fill="#111"/>
<rect x="264" y="866" width="238.70" height="7.20" fill="url(#gN)" stroke="#111" stroke-width="1.5" rx="0"/>
<rect x="264.8" y="866.8" width="17.2" height="5.6" fill="#555"/>
<rect x="265.5" y="868.2" width="14.0" height="2.9" fill="#c8c8c8"/>
<ellipse cx="281" cy="869.6" rx="1.5" ry="1.8" fill="#111"/>
<line x1="250" y1="866" x2="264" y2="866" stroke="#333" stroke-width="1.15"/>
<line x1="250" y1="873.2" x2="264" y2="873.2" stroke="#333" stroke-width="1.15"/>
<line x1="252" y1="847.9" x2="252" y2="891.9" stroke="#333" stroke-width="1.15"/>
<polygon points="252.0,866.0 250.6,863.6 250.2,860.0 252.0,858.0 253.8,860.0 253.4,863.6" fill="#111"/>
<polygon points="252.0,873.2 253.4,875.6 253.8,879.2 252.0,881.2 250.2,879.2 250.6,875.6" fill="#111"/>
<text x="247.5" y="870.5" font-size="11" text-anchor="middle" fill="#2a2a2a" stroke="#2a2a2a" stroke-width="0.3" transform="rotate(-90 247.5 870.5)">Ø2.6</text>
<line x1="524.4" y1="833.7" x2="524.4" y2="892" stroke="#333" stroke-width="1.15"/>
<polygon points="524.4,863.6 523.0,861.2 522.6,857.6 524.4,855.6 526.2,857.6 525.8,861.2" fill="#111"/>
<polygon points="524.4,875.7 525.8,878.1 526.2,881.7 524.4,883.7 522.6,881.7 523.0,878.1" fill="#111"/>
<rect x="513.2" y="863.2" width="36.30" height="13.20" fill="url(#gG)" stroke="#111" stroke-width="1.8" rx="0"/>
<rect x="557" y="861.8" width="17.5" height="15.5" fill="url(#pThG)"/>
<rect x="557" y="861.8" width="17.5" height="15.5" fill="url(#gShade)"/>
<rect x="557" y="861.8" width="17.50" height="15.50" fill="none" stroke="#111" stroke-width="1.8" rx="0"/>
<rect x="549.5" y="861" width="8.20" height="17.60" fill="url(#gG)" stroke="#111" stroke-width="1.8" rx="2.5"/>
<text x="520" y="842" font-size="11" text-anchor="middle" fill="#2a2a2a" stroke="#2a2a2a" stroke-width="0.3" transform="rotate(-90 520 842)">Ø5</text>
<circle cx="590.8" cy="869.6" r="5.6" fill="#3a3a3a" stroke="#111" stroke-width="3.2"/>
<ellipse cx="590.1999999999999" cy="869.6" rx="1.1" ry="4" fill="#f0f0f0"/>
<rect x="607.6" y="858.7" width="219.40" height="22.60" fill="url(#gG)" stroke="#111" stroke-width="1.8" rx="0"/>
<polygon points="825.4,858.7 832.0,860.5 832.0,858.7 839.0,860.5 839.0,858.7 845.5,860.5 845.5,858.7 851.0,860.5 851.0,858.7 857.5,860.5 857.5,858.7 863.5,860.5 863.5,858.7 869.8,860.5 869.8,879.5 863.5,881.3 863.5,879.5 857.5,881.3 857.5,879.5 851.0,881.3 851.0,879.5 845.5,881.3 845.5,879.5 839.0,881.3 839.0,879.5 832.0,881.3 832.0,879.5 825.4,881.3" fill="url(#gG)" stroke="#111" stroke-width="1.8" stroke-linejoin="round"/>
<rect x="824.2" y="858.7" width="2.4" height="22.6" fill="#111"/>
<rect x="830.8" y="858.7" width="2.4" height="22.6" fill="#111"/>
<rect x="837.8" y="858.7" width="2.4" height="22.6" fill="#111"/>
<rect x="844.3" y="858.7" width="2.4" height="22.6" fill="#111"/>
<rect x="849.8" y="858.7" width="2.4" height="22.6" fill="#111"/>
<rect x="856.3" y="858.7" width="2.4" height="22.6" fill="#111"/>
<rect x="862.3" y="858.7" width="2.4" height="22.6" fill="#111"/>
<line x1="607.6" y1="803.3" x2="871.3" y2="803.3" stroke="#333" stroke-width="1.15"/>
<polygon points="607.6,803.3 610.0,801.9 613.6,801.5 615.6,803.3 613.6,805.1 610.0,804.7" fill="#111"/>
<polygon points="871.3,803.3 868.9,804.7 865.3,805.1 863.3,803.3 865.3,801.5 868.9,801.9" fill="#111"/>
<text x="739" y="800" font-size="11" text-anchor="middle" fill="#2a2a2a" stroke="#2a2a2a" stroke-width="0.3">110</text>
<line x1="607.6" y1="791.8" x2="607.6" y2="858.7" stroke="#5a5a5a" stroke-width="1.2"/>
<line x1="871.3" y1="791.8" x2="871.3" y2="862" stroke="#5a5a5a" stroke-width="1.2"/>
<text x="760.9" y="828.3" font-size="11" text-anchor="start" fill="#2a2a2a" stroke="#2a2a2a" stroke-width="0.3">风针组件A2.6-110</text>
<polyline points="852,830.5 756.8,830.5 721.4,858.6" fill="none" stroke="#333" stroke-width="1.2"/>
<polygon points="721.4,858.6 722.2,856.3 724.5,854.1 726.9,854.2 726.5,856.6 723.8,858.3" fill="#111"/>
<line x1="330.4" y1="915.7" x2="502.6" y2="915.7" stroke="#333" stroke-width="1.15"/>
<polygon points="330.4,915.7 332.8,914.3 336.4,913.9 338.4,915.7 336.4,917.5 332.8,917.1" fill="#111"/>
<polygon points="502.6,915.7 500.2,917.1 496.6,917.5 494.6,915.7 496.6,913.9 500.2,914.3" fill="#111"/>
<text x="417" y="912.5" font-size="11" text-anchor="middle" fill="#2a2a2a" stroke="#2a2a2a" stroke-width="0.3">72</text>
<line x1="330.4" y1="902.4" x2="330.4" y2="958.6" stroke="#5a5a5a" stroke-width="1.2"/>
<line x1="502.6" y1="902.4" x2="502.6" y2="958.6" stroke="#5a5a5a" stroke-width="1.2"/>
<text x="335.6" y="933.5" font-size="11" text-anchor="start" fill="#2a2a2a" stroke="#2a2a2a" stroke-width="0.3">风针组件D72</text>
<polyline points="335,936.4 405.2,936.4 428.4,958.6" fill="none" stroke="#333" stroke-width="1.2"/>
<polygon points="428.4,958.6 426.0,958.1 423.5,956.1 423.3,953.8 425.7,953.8 427.8,956.2" fill="#111"/>
<rect x="330.4" y="958.6" width="172.20" height="7.10" fill="url(#gN)" stroke="#111" stroke-width="1.5" rx="0"/>
<rect x="331.2" y="959.4" width="16.8" height="5.5" fill="#555"/>
<rect x="331.9" y="960.7" width="13.6" height="2.8" fill="#c8c8c8"/>
<ellipse cx="347" cy="962.1500000000001" rx="1.5" ry="1.8" fill="#111"/>
<line x1="300" y1="958.6" x2="330.4" y2="958.6" stroke="#333" stroke-width="1.15"/>
<line x1="300" y1="965.7" x2="330.4" y2="965.7" stroke="#333" stroke-width="1.15"/>
<line x1="309.4" y1="941" x2="309.4" y2="984.3" stroke="#333" stroke-width="1.15"/>
<polygon points="309.4,958.6 308.0,956.2 307.6,952.6 309.4,950.6 311.2,952.6 310.8,956.2" fill="#111"/>
<polygon points="309.4,965.7 310.8,968.1 311.2,971.7 309.4,973.7 307.6,971.7 308.0,968.1" fill="#111"/>
<text x="305" y="962.5" font-size="11" text-anchor="middle" fill="#2a2a2a" stroke="#2a2a2a" stroke-width="0.3" transform="rotate(-90 305 962.5)">Ø2.6</text>
<rect x="513.2" y="955.8000000000001" width="36.30" height="13.20" fill="url(#gG)" stroke="#111" stroke-width="1.8" rx="0"/>
<rect x="557" y="954.4" width="17.5" height="15.5" fill="url(#pThG)"/>
<rect x="557" y="954.4" width="17.5" height="15.5" fill="url(#gShade)"/>
<rect x="557" y="954.4" width="17.50" height="15.50" fill="none" stroke="#111" stroke-width="1.8" rx="0"/>
<rect x="549.5" y="953.6" width="8.20" height="17.60" fill="url(#gG)" stroke="#111" stroke-width="1.8" rx="2.5"/>
<circle cx="590.8" cy="962.2" r="5.6" fill="#3a3a3a" stroke="#111" stroke-width="3.2"/>
<ellipse cx="590.1999999999999" cy="962.2" rx="1.1" ry="4" fill="#f0f0f0"/>
<rect x="607.8" y="951" width="100.20" height="22.50" fill="url(#gG)" stroke="#111" stroke-width="1.8" rx="0"/>
<polygon points="707.0,951.0 722.0,953.0 722.0,951.0 735.6,953.0 735.6,951.0 749.7,953.0 749.7,951.0 762.8,953.0 762.8,971.5 749.7,973.5 749.7,971.5 735.6,973.5 735.6,971.5 722.0,973.5 722.0,971.5 707.0,973.5" fill="url(#gG)" stroke="#111" stroke-width="1.8" stroke-linejoin="round"/>
<rect x="705.6" y="951.0" width="2.8" height="22.5" fill="#111"/>
<rect x="720.6" y="951.0" width="2.8" height="22.5" fill="#111"/>
<rect x="734.2" y="951.0" width="2.8" height="22.5" fill="#111"/>
<rect x="748.3" y="951.0" width="2.8" height="22.5" fill="#111"/>
<line x1="607.8" y1="915.5" x2="763" y2="915.5" stroke="#333" stroke-width="1.15"/>
<polygon points="607.8,915.5 610.2,914.1 613.8,913.7 615.8,915.5 613.8,917.3 610.2,916.9" fill="#111"/>
<polygon points="763.0,915.5 760.6,916.9 757.0,917.3 755.0,915.5 757.0,913.7 760.6,914.1" fill="#111"/>
<text x="685.4" y="912" font-size="11" text-anchor="middle" fill="#2a2a2a" stroke="#2a2a2a" stroke-width="0.3">65</text>
<line x1="607.8" y1="904" x2="607.8" y2="951" stroke="#5a5a5a" stroke-width="1.2"/>
<line x1="763" y1="904" x2="763" y2="953" stroke="#5a5a5a" stroke-width="1.2"/>
<text x="769.4" y="928.2" font-size="11" text-anchor="start" fill="#2a2a2a" stroke="#2a2a2a" stroke-width="0.3">风针组件A2.6-65</text>
<polyline points="855,930.2 742.7,930.2 708.3,951" fill="none" stroke="#333" stroke-width="1.2"/>
<polygon points="708.3,951.0 709.4,948.8 712.0,946.9 714.3,947.4 713.6,949.7 710.8,951.0" fill="#111"/>
<line x1="399.1" y1="1009.5" x2="539" y2="1009.5" stroke="#333" stroke-width="1.15"/>
<polygon points="399.1,1009.5 401.5,1008.1 405.1,1007.7 407.1,1009.5 405.1,1011.3 401.5,1010.9" fill="#111"/>
<polygon points="539.0,1009.5 536.6,1010.9 533.0,1011.3 531.0,1009.5 533.0,1007.7 536.6,1008.1" fill="#111"/>
<text x="469" y="1005.5" font-size="11" text-anchor="middle" fill="#2a2a2a" stroke="#2a2a2a" stroke-width="0.3">58</text>
<line x1="399.1" y1="997.2" x2="399.1" y2="1051.2" stroke="#5a5a5a" stroke-width="1.2"/>
<line x1="539" y1="997.2" x2="539" y2="1051.2" stroke="#5a5a5a" stroke-width="1.2"/>
<text x="404.5" y="1028" font-size="11" text-anchor="start" fill="#2a2a2a" stroke="#2a2a2a" stroke-width="0.3">风针组件D58</text>
<polyline points="404,1031.5 475.2,1031.5 499.7,1051" fill="none" stroke="#333" stroke-width="1.2"/>
<polygon points="499.7,1051.0 497.3,1050.7 494.6,1049.0 494.2,1046.6 496.6,1046.5 498.9,1048.7" fill="#111"/>
<rect x="399.1" y="1051.2" width="139.90" height="7.30" fill="url(#gN)" stroke="#111" stroke-width="1.5" rx="0"/>
<rect x="399.90000000000003" y="1052.0" width="17.1" height="5.7" fill="#555"/>
<rect x="400.6" y="1053.4" width="13.9" height="2.9" fill="#c8c8c8"/>
<ellipse cx="416" cy="1054.85" rx="1.5" ry="1.8" fill="#111"/>
<line x1="370" y1="1051.2" x2="399.1" y2="1051.2" stroke="#333" stroke-width="1.15"/>
<line x1="370" y1="1058.5" x2="399.1" y2="1058.5" stroke="#333" stroke-width="1.15"/>
<line x1="377.5" y1="1032.8" x2="377.5" y2="1077" stroke="#333" stroke-width="1.15"/>
<polygon points="377.5,1051.2 376.1,1048.8 375.7,1045.2 377.5,1043.2 379.3,1045.2 378.9,1048.8" fill="#111"/>
<polygon points="377.5,1058.5 378.9,1060.9 379.3,1064.5 377.5,1066.5 375.7,1064.5 376.1,1060.9" fill="#111"/>
<text x="373" y="1055" font-size="11" text-anchor="middle" fill="#2a2a2a" stroke="#2a2a2a" stroke-width="0.3" transform="rotate(-90 373 1055)">Ø2.6</text>
<rect x="558" y="1046.8" width="16.6" height="16.2" fill="url(#pThG)"/>
<rect x="558" y="1046.8" width="16.6" height="16.2" fill="url(#gShade)"/>
<rect x="558" y="1046.8" width="16.60" height="16.20" fill="none" stroke="#111" stroke-width="1.8" rx="0"/>
<rect x="548.8" y="1046" width="9.70" height="17.80" fill="url(#gT)" stroke="#111" stroke-width="1.8" rx="2.5"/>
<circle cx="590.6" cy="1054.9" r="5.6" fill="#3a3a3a" stroke="#111" stroke-width="3.2"/>
<ellipse cx="590.0" cy="1054.9" rx="1.1" ry="4" fill="#f0f0f0"/>
<rect x="607.8" y="1043.8" width="54.70" height="21.70" fill="url(#gG)" stroke="#111" stroke-width="1.8" rx="0"/>
<polygon points="661.7,1043.8 674.3,1045.6 674.3,1043.8 687.6,1045.6 687.6,1043.8 701.2,1045.6 701.2,1063.7 687.6,1065.5 687.6,1063.7 674.3,1065.5 674.3,1063.7 661.7,1065.5" fill="url(#gG)" stroke="#111" stroke-width="1.8" stroke-linejoin="round"/>
<rect x="660.3" y="1043.8" width="2.8" height="21.7" fill="#111"/>
<rect x="672.9" y="1043.8" width="2.8" height="21.7" fill="#111"/>
<rect x="686.2" y="1043.8" width="2.8" height="21.7" fill="#111"/>
<line x1="607.8" y1="1015.6" x2="701.5" y2="1015.6" stroke="#333" stroke-width="1.15"/>
<polygon points="607.8,1015.6 610.2,1014.2 613.8,1013.8 615.8,1015.6 613.8,1017.4 610.2,1017.0" fill="#111"/>
<polygon points="701.5,1015.6 699.1,1017.0 695.5,1017.4 693.5,1015.6 695.5,1013.8 699.1,1014.2" fill="#111"/>
<text x="654.9" y="1011.5" font-size="11" text-anchor="middle" fill="#2a2a2a" stroke="#2a2a2a" stroke-width="0.3">39</text>
<line x1="607.8" y1="1002.9" x2="607.8" y2="1043.6" stroke="#5a5a5a" stroke-width="1.2"/>
<line x1="701.5" y1="1002.9" x2="701.5" y2="1046" stroke="#5a5a5a" stroke-width="1.2"/>
<text x="764.3" y="1012.3" font-size="11" text-anchor="start" fill="#2a2a2a" stroke="#2a2a2a" stroke-width="0.3">风针组件A2.6-39</text>
<polyline points="848,1015.1 746.5,1015.1 680.4,1043.6" fill="none" stroke="#333" stroke-width="1.2"/>
<polygon points="680.4,1043.6 681.8,1041.6 684.6,1040.1 686.8,1040.8 685.9,1043.0 682.8,1043.9" fill="#111"/>
<text x="442" y="1088" font-size="11" text-anchor="start" fill="#2a2a2a" stroke="#2a2a2a" stroke-width="0.3">风针组件C1-2.6</text>
<polyline points="442,1091.7 525.5,1091.7 563.5,1063.5" fill="none" stroke="#333" stroke-width="1.2"/>
<polygon points="563.5,1063.5 562.6,1065.8 560.2,1067.9 557.9,1067.7 558.3,1065.3 561.1,1063.7" fill="#111"/>
<text x="634.8" y="29" font-size="8.7" text-anchor="start" fill="#2a2a2a" stroke="#2a2a2a" stroke-width="0.3">内胎风针:NM8-121</text>
<line x1="684.2" y1="48" x2="909" y2="48" stroke="#333" stroke-width="1.15"/>
<polygon points="684.2,48.0 686.6,46.6 690.2,46.2 692.2,48.0 690.2,49.8 686.6,49.4" fill="#111"/>
<polygon points="909.0,48.0 906.6,49.4 903.0,49.8 901.0,48.0 903.0,46.2 906.6,46.6" fill="#111"/>
<text x="814.7" y="45.5" font-size="8.5" text-anchor="middle" fill="#2a2a2a" stroke="#2a2a2a" stroke-width="0.3">121</text>
<line x1="684.2" y1="40" x2="684.2" y2="85" stroke="#5a5a5a" stroke-width="1.2"/>
<line x1="909" y1="38.4" x2="909" y2="83.6" stroke="#5a5a5a" stroke-width="1.2"/>
<rect x="718" y="84.2" width="135.40" height="11.40" fill="url(#gN)" stroke="#111" stroke-width="2" rx="0"/>
<rect x="684.2" y="85" width="11.80" height="9.80" fill="url(#gN)" stroke="#111" stroke-width="1.5" rx="0"/>
<rect x="696" y="83.4" width="22.00" height="13.10" fill="url(#gN)" stroke="#111" stroke-width="1.5" rx="0"/>
<rect x="696" y="83.4" width="3.50" height="13.10" fill="#222" stroke="#111" stroke-width="0" rx="0"/>
<rect x="853.4" y="82.5" width="56.60" height="15.00" fill="url(#gTL)" stroke="#111" stroke-width="1.6" rx="0"/>
<rect x="883" y="83.5" width="26" height="13" fill="url(#pTh)"/>
<rect x="883" y="83.5" width="26" height="13" fill="url(#gShade)"/>
<rect x="853.4" y="82.5" width="56.60" height="15.00" fill="none" stroke="#111" stroke-width="1.6" rx="0"/>
<rect x="854.5" y="86" width="9.50" height="8.00" fill="#e0e0e0" stroke="#111" stroke-width="1.4" rx="0"/>
<line x1="708.4" y1="64.8" x2="708.4" y2="111.2" stroke="#333" stroke-width="1.15"/>
<polygon points="708.4,83.4 707.0,81.0 706.6,77.4 708.4,75.4 710.2,77.4 709.8,81.0" fill="#111"/>
<polygon points="708.4,96.5 709.8,98.9 710.2,102.5 708.4,104.5 706.6,102.5 707.0,98.9" fill="#111"/>
<line x1="708.4" y1="64.8" x2="726.4" y2="64.8" stroke="#333" stroke-width="1.15"/>
<text x="719.8" y="62.3" font-size="8.5" text-anchor="middle" fill="#2a2a2a" stroke="#2a2a2a" stroke-width="0.3">Ø7</text>
<line x1="674" y1="85" x2="684.2" y2="85" stroke="#333" stroke-width="1.15"/>
<line x1="674" y1="94.8" x2="684.2" y2="94.8" stroke="#333" stroke-width="1.15"/>
<line x1="672.4" y1="70.3" x2="672.4" y2="109.6" stroke="#333" stroke-width="1.15"/>
<polygon points="672.4,85.0 671.0,82.6 670.6,79.0 672.4,77.0 674.2,79.0 673.8,82.6" fill="#111"/>
<polygon points="672.4,94.8 673.8,97.2 674.2,100.8 672.4,102.8 670.6,100.8 671.0,97.2" fill="#111"/>
<text x="668.5" y="90" font-size="8" text-anchor="middle" fill="#2a2a2a" stroke="#2a2a2a" stroke-width="0.3" transform="rotate(-90 668.5 90)">Ø5.3</text>
<line x1="788.5" y1="65.6" x2="788.5" y2="110.5" stroke="#333" stroke-width="1.15"/>
<polygon points="788.5,84.2 787.1,81.8 786.7,78.2 788.5,76.2 790.3,78.2 789.9,81.8" fill="#111"/>
<polygon points="788.5,95.6 789.9,98.0 790.3,101.6 788.5,103.6 786.7,101.6 787.1,98.0" fill="#111"/>
<line x1="788.5" y1="65.6" x2="813.2" y2="65.6" stroke="#333" stroke-width="1.15"/>
<text x="802.4" y="62.5" font-size="8.5" text-anchor="middle" fill="#2a2a2a" stroke="#2a2a2a" stroke-width="0.3">Ø5.4</text>
<line x1="853.4" y1="68.7" x2="909" y2="68.7" stroke="#333" stroke-width="1.15"/>
<polygon points="853.4,68.7 855.8,67.3 859.4,66.9 861.4,68.7 859.4,70.5 855.8,70.1" fill="#111"/>
<polygon points="909.0,68.7 906.6,70.1 903.0,70.5 901.0,68.7 903.0,66.9 906.6,67.3" fill="#111"/>
<text x="881.2" y="65.6" font-size="8.5" text-anchor="middle" fill="#2a2a2a" stroke="#2a2a2a" stroke-width="0.3">30</text>
<line x1="853.4" y1="57.9" x2="853.4" y2="83.6" stroke="#5a5a5a" stroke-width="1.2"/>
<text x="926" y="61.5" font-size="8.5" text-anchor="start" fill="#2a2a2a" stroke="#2a2a2a" stroke-width="0.3">M8</text>
<polyline points="939,63.2 918.3,63.2 902.8,81.7" fill="none" stroke="#333" stroke-width="1.2"/>
<polygon points="902.8,81.7 903.2,79.3 904.9,76.6 907.3,76.3 907.4,78.7 905.1,80.9" fill="#111"/>
<text x="622.4" y="141.8" font-size="8.7" text-anchor="start" fill="#2a2a2a" stroke="#2a2a2a" stroke-width="0.3">前胎风针:QM8-121</text>
<line x1="682.6" y1="155.9" x2="908.3" y2="155.9" stroke="#333" stroke-width="1.15"/>
<polygon points="682.6,155.9 685.0,154.5 688.6,154.1 690.6,155.9 688.6,157.7 685.0,157.3" fill="#111"/>
<polygon points="908.3,155.9 905.9,157.3 902.3,157.7 900.3,155.9 902.3,154.1 905.9,154.5" fill="#111"/>
<text x="795.5" y="153.3" font-size="8.5" text-anchor="middle" fill="#2a2a2a" stroke="#2a2a2a" stroke-width="0.3">121</text>
<line x1="682.6" y1="146.6" x2="682.6" y2="194.6" stroke="#5a5a5a" stroke-width="1.2"/>
<line x1="908.3" y1="146.6" x2="908.3" y2="192.4" stroke="#5a5a5a" stroke-width="1.2"/>
<rect x="712.4" y="193.8" width="154.20" height="11.40" fill="url(#gN)" stroke="#111" stroke-width="1.6" rx="0"/>
<path d="M682.9,194.6 L712.4,193 L712.4,206.5 L682.9,204.9 Z" fill="url(#gN)" stroke="#111" stroke-width="1.8"/>
<line x1="712.4" y1="193" x2="712.4" y2="206.5" stroke="#111" stroke-width="2"/>
<rect x="866.6" y="192.4" width="41.70" height="14.50" fill="url(#gTL)" stroke="#111" stroke-width="1.6" rx="0"/>
<rect x="879" y="193.4" width="28.5" height="12.5" fill="url(#pTh)"/>
<rect x="879" y="193.4" width="28.5" height="12.5" fill="url(#gShade)"/>
<rect x="866.6" y="192.4" width="41.70" height="14.50" fill="none" stroke="#111" stroke-width="1.6" rx="0"/>
<rect x="868" y="197" width="10.00" height="6.00" fill="#e0e0e0" stroke="#111" stroke-width="1.4" rx="0"/>
<line x1="716.6" y1="175" x2="716.6" y2="219.3" stroke="#333" stroke-width="1.15"/>
<polygon points="716.6,193.6 715.2,191.2 714.8,187.6 716.6,185.6 718.4,187.6 718.0,191.2" fill="#111"/>
<polygon points="716.6,206.0 718.0,208.4 718.4,212.0 716.6,214.0 714.8,212.0 715.2,208.4" fill="#111"/>
<line x1="716.6" y1="175" x2="746" y2="175" stroke="#333" stroke-width="1.15"/>
<text x="733.6" y="169.7" font-size="8.5" text-anchor="middle" fill="#2a2a2a" stroke="#2a2a2a" stroke-width="0.3">Ø6.94</text>
<line x1="806.3" y1="175" x2="806.3" y2="219" stroke="#333" stroke-width="1.15"/>
<polygon points="806.3,193.6 804.9,191.2 804.5,187.6 806.3,185.6 808.1,187.6 807.7,191.2" fill="#111"/>
<polygon points="806.3,206.0 807.7,208.4 808.1,212.0 806.3,214.0 804.5,212.0 804.9,208.4" fill="#111"/>
<line x1="806.3" y1="175" x2="823.3" y2="175" stroke="#333" stroke-width="1.15"/>
<text x="817" y="172.2" font-size="8.5" text-anchor="middle" fill="#2a2a2a" stroke="#2a2a2a" stroke-width="0.3">Ø6</text>
<line x1="866.6" y1="177.5" x2="908.3" y2="177.5" stroke="#333" stroke-width="1.15"/>
<polygon points="866.6,177.5 869.0,176.1 872.6,175.7 874.6,177.5 872.6,179.3 869.0,178.9" fill="#111"/>
<polygon points="908.3,177.5 905.9,178.9 902.3,179.3 900.3,177.5 902.3,175.7 905.9,176.1" fill="#111"/>
<text x="886.7" y="174.4" font-size="8.5" text-anchor="middle" fill="#2a2a2a" stroke="#2a2a2a" stroke-width="0.3">22</text>
<line x1="866.6" y1="168.3" x2="866.6" y2="192.4" stroke="#5a5a5a" stroke-width="1.2"/>
<text x="925.3" y="171.3" font-size="8.5" text-anchor="start" fill="#2a2a2a" stroke="#2a2a2a" stroke-width="0.3">M8</text>
<polyline points="940,173.5 919,173.5 900.6,191.5" fill="none" stroke="#333" stroke-width="1.2"/>
<polygon points="900.6,191.5 901.2,189.1 903.2,186.7 905.6,186.6 905.5,189.0 903.0,190.9" fill="#111"/>
<line x1="670" y1="195.2" x2="682.6" y2="195.2" stroke="#333" stroke-width="1.15"/>
<line x1="670" y1="205.2" x2="682.6" y2="205.2" stroke="#333" stroke-width="1.15"/>
<line x1="673.4" y1="180.6" x2="673.4" y2="217.7" stroke="#333" stroke-width="1.15"/>
<polygon points="673.4,195.2 672.0,192.8 671.6,189.2 673.4,187.2 675.2,189.2 674.8,192.8" fill="#111"/>
<polygon points="673.4,205.2 674.8,207.6 675.2,211.2 673.4,213.2 671.6,211.2 672.0,207.6" fill="#111"/>
<text x="669.5" y="200.7" font-size="8" text-anchor="middle" fill="#2a2a2a" stroke="#2a2a2a" stroke-width="0.3" transform="rotate(-90 669.5 200.7)">Ø5.86</text>
<text x="639.2" y="259" font-size="8.7" text-anchor="start" fill="#2a2a2a" stroke="#2a2a2a" stroke-width="0.3">中胎风针: ZM8-145</text>
<line x1="654" y1="279.6" x2="923.5" y2="279.6" stroke="#333" stroke-width="1.15"/>
<polygon points="654.0,279.6 656.4,278.2 660.0,277.8 662.0,279.6 660.0,281.4 656.4,281.0" fill="#111"/>
<polygon points="923.5,279.6 921.1,281.0 917.5,281.4 915.5,279.6 917.5,277.8 921.1,278.2" fill="#111"/>
<text x="788.5" y="276.4" font-size="8.5" text-anchor="middle" fill="#2a2a2a" stroke="#2a2a2a" stroke-width="0.3">145</text>
<line x1="654" y1="269.4" x2="654" y2="312.6" stroke="#5a5a5a" stroke-width="1.2"/>
<line x1="923.5" y1="269.4" x2="923.5" y2="310.5" stroke="#5a5a5a" stroke-width="1.2"/>
<rect x="654" y="312.6" width="213.30" height="11.50" fill="url(#gN)" stroke="#111" stroke-width="2" rx="0"/>
<line x1="657.5" y1="313.5" x2="657.5" y2="323.2" stroke="#222" stroke-width="1.5"/>
<rect x="867.3" y="310.5" width="56.20" height="15.40" fill="url(#gTL)" stroke="#111" stroke-width="1.6" rx="0"/>
<rect x="880" y="311.5" width="43" height="13.5" fill="url(#pTh)"/>
<rect x="880" y="311.5" width="43" height="13.5" fill="url(#gShade)"/>
<rect x="867.3" y="310.5" width="56.20" height="15.40" fill="none" stroke="#111" stroke-width="1.6" rx="0"/>
<line x1="735" y1="293.5" x2="735" y2="339" stroke="#333" stroke-width="1.15"/>
<polygon points="735.0,312.6 733.6,310.2 733.2,306.6 735.0,304.6 736.8,306.6 736.4,310.2" fill="#111"/>
<polygon points="735.0,324.1 736.4,326.5 736.8,330.1 735.0,332.1 733.2,330.1 733.6,326.5" fill="#111"/>
<line x1="735" y1="293.5" x2="747.4" y2="293.5" stroke="#333" stroke-width="1.15"/>
<text x="740.6" y="290.9" font-size="8.5" text-anchor="middle" fill="#2a2a2a" stroke="#2a2a2a" stroke-width="0.3">Ø6</text>
<line x1="867.3" y1="298.1" x2="923.5" y2="298.1" stroke="#333" stroke-width="1.15"/>
<polygon points="867.3,298.1 869.7,296.7 873.3,296.3 875.3,298.1 873.3,299.9 869.7,299.5" fill="#111"/>
<polygon points="923.5,298.1 921.1,299.5 917.5,299.9 915.5,298.1 917.5,296.3 921.1,296.7" fill="#111"/>
<text x="896.7" y="295" font-size="8.5" text-anchor="middle" fill="#2a2a2a" stroke="#2a2a2a" stroke-width="0.3">30</text>
<line x1="867.3" y1="285.7" x2="867.3" y2="310.5" stroke="#5a5a5a" stroke-width="1.2"/>
<text x="943" y="290.9" font-size="8.5" text-anchor="start" fill="#2a2a2a" stroke="#2a2a2a" stroke-width="0.3">M8</text>
<polyline points="957,293.2 938.4,293.2 918.3,310.5" fill="none" stroke="#333" stroke-width="1.2"/>
<polygon points="918.3,310.5 919.1,308.2 921.2,305.9 923.6,305.9 923.3,308.3 920.7,310.1" fill="#111"/>
<text x="627.7" y="386.2" font-size="8.7" text-anchor="start" fill="#2a2a2a" stroke="#2a2a2a" stroke-width="0.3">美制气针:M2.6-64</text>
<line x1="734.4" y1="389.4" x2="918.5" y2="389.4" stroke="#333" stroke-width="1.15"/>
<polygon points="734.4,389.4 736.8,388.0 740.4,387.6 742.4,389.4 740.4,391.2 736.8,390.8" fill="#111"/>
<polygon points="918.5,389.4 916.1,390.8 912.5,391.2 910.5,389.4 912.5,387.6 916.1,388.0" fill="#111"/>
<text x="824" y="386.2" font-size="8.5" text-anchor="middle" fill="#2a2a2a" stroke="#2a2a2a" stroke-width="0.3">64</text>
<line x1="734.4" y1="380.1" x2="734.4" y2="420.3" stroke="#5a5a5a" stroke-width="1.2"/>
<line x1="918.5" y1="380.1" x2="918.5" y2="412.9" stroke="#5a5a5a" stroke-width="1.2"/>
<line x1="734.4" y1="403.3" x2="880.8" y2="403.3" stroke="#333" stroke-width="1.15"/>
<polygon points="734.4,403.3 736.8,401.9 740.4,401.5 742.4,403.3 740.4,405.1 736.8,404.7" fill="#111"/>
<polygon points="880.8,403.3 878.4,404.7 874.8,405.1 872.8,403.3 874.8,401.5 878.4,401.9" fill="#111"/>
<text x="807" y="400.7" font-size="8.5" text-anchor="middle" fill="#2a2a2a" stroke="#2a2a2a" stroke-width="0.3">51</text>
<line x1="880.8" y1="394" x2="880.8" y2="410.4" stroke="#5a5a5a" stroke-width="1.2"/>
<rect x="734.4" y="420.3" width="146.40" height="7.70" fill="url(#gN)" stroke="#111" stroke-width="1.5" rx="0"/>
<rect x="735.1999999999999" y="421.1" width="21.8" height="6.1" fill="#555"/>
<rect x="735.9" y="422.6" width="18.6" height="3.1" fill="#c8c8c8"/>
<ellipse cx="753" cy="424.15" rx="1.5" ry="1.8" fill="#111"/>
<rect x="880.4" y="410.4" width="17.10" height="27.30" fill="url(#gG)" stroke="#111" stroke-width="1.6" rx="1.5"/>
<rect x="897.5" y="412.9" width="21.70" height="22.30" fill="url(#pThG)" stroke="#111" stroke-width="1.6" rx="0"/>
<rect x="898" y="413.5" width="21" height="21" fill="url(#gShade)"/>
<line x1="700" y1="420.3" x2="734.4" y2="420.3" stroke="#333" stroke-width="1.15"/>
<line x1="700" y1="428" x2="734.4" y2="428" stroke="#333" stroke-width="1.15"/>
<line x1="708" y1="404.8" x2="708" y2="441.9" stroke="#333" stroke-width="1.15"/>
<polygon points="708.0,420.3 706.6,417.9 706.2,414.3 708.0,412.3 709.8,414.3 709.4,417.9" fill="#111"/>
<polygon points="708.0,428.0 709.4,430.4 709.8,434.0 708.0,436.0 706.2,434.0 706.6,430.4" fill="#111"/>
<text x="704.5" y="424.9" font-size="9" text-anchor="middle" fill="#2a2a2a" stroke="#2a2a2a" stroke-width="0.3" transform="rotate(-90 704.5 424.9)">Ø2.6</text>
<polyline points="965.6,449.2 917.9,449.2 904,435.2" fill="none" stroke="#333" stroke-width="1.2"/>
<polygon points="904.0,435.2 906.4,435.8 908.8,437.8 908.9,440.2 906.6,440.1 904.6,437.6" fill="#111"/>
<text x="922.4" y="447.3" font-size="8.6" text-anchor="start" fill="#2a2a2a" stroke="#2a2a2a" stroke-width="0.3">美制8针牙</text>
<text x="616.4" y="483.3" font-size="8.7" text-anchor="start" fill="#2a2a2a" stroke="#2a2a2a" stroke-width="0.3">美制风针:SPT01-2.6-72</text>
<line x1="714.4" y1="488.9" x2="920.2" y2="488.9" stroke="#333" stroke-width="1.15"/>
<polygon points="714.4,488.9 716.8,487.5 720.4,487.1 722.4,488.9 720.4,490.7 716.8,490.3" fill="#111"/>
<polygon points="920.2,488.9 917.8,490.3 914.2,490.7 912.2,488.9 914.2,487.1 917.8,487.5" fill="#111"/>
<text x="816.8" y="485.5" font-size="8.5" text-anchor="middle" fill="#2a2a2a" stroke="#2a2a2a" stroke-width="0.3">72</text>
<line x1="714.4" y1="480.9" x2="714.4" y2="528" stroke="#5a5a5a" stroke-width="1.2"/>
<line x1="920.2" y1="480.9" x2="920.2" y2="517.5" stroke="#5a5a5a" stroke-width="1.2"/>
<line x1="806.6" y1="503.8" x2="920.2" y2="503.8" stroke="#333" stroke-width="1.15"/>
<polygon points="806.6,503.8 809.0,502.4 812.6,502.0 814.6,503.8 812.6,505.6 809.0,505.2" fill="#111"/>
<polygon points="920.2,503.8 917.8,505.2 914.2,505.6 912.2,503.8 914.2,502.0 917.8,502.4" fill="#111"/>
<text x="861.3" y="500.5" font-size="8.5" text-anchor="middle" fill="#2a2a2a" stroke="#2a2a2a" stroke-width="0.3">40</text>
<line x1="806.6" y1="494.3" x2="806.6" y2="521.6" stroke="#5a5a5a" stroke-width="1.2"/>
<rect x="714.4" y="528" width="91.30" height="7.60" fill="url(#gN)" stroke="#111" stroke-width="1.5" rx="0"/>
<rect x="715.1999999999999" y="528.8" width="22.8" height="6.0" fill="#555"/>
<rect x="715.9" y="530.3" width="19.6" height="3.0" fill="#c8c8c8"/>
<ellipse cx="735" cy="531.8" rx="1.5" ry="1.8" fill="#111"/>
<rect x="806.5" y="521.5" width="12.10" height="21.00" fill="url(#gG)" stroke="#111" stroke-width="1.6" rx="2"/>
<line x1="806.5" y1="526" x2="818.6" y2="526" stroke="#333" stroke-width="0.8"/>
<line x1="806.5" y1="538" x2="818.6" y2="538" stroke="#333" stroke-width="0.8"/>
<rect x="820.5" y="517.1" width="100.60" height="29.90" fill="url(#gG)" stroke="#111" stroke-width="1.8" rx="1.5"/>
<rect x="893.7" y="518" width="26.5" height="28" fill="url(#pThG)"/>
<rect x="893.7" y="518" width="26.5" height="28" fill="url(#gShade)"/>
<rect x="820.5" y="517.1" width="100.60" height="29.90" fill="none" stroke="#111" stroke-width="1.8" rx="1.5"/>
<rect x="818.4" y="524" width="2.10" height="16.00" fill="#333" stroke="#111" stroke-width="0" rx="0"/>
<line x1="683" y1="528" x2="714.4" y2="528" stroke="#333" stroke-width="1.15"/>
<line x1="683" y1="535.6" x2="714.4" y2="535.6" stroke="#333" stroke-width="1.15"/>
<line x1="691.1" y1="512.7" x2="691.1" y2="550.9" stroke="#333" stroke-width="1.15"/>
<polygon points="691.1,528.0 689.7,525.6 689.3,522.0 691.1,520.0 692.9,522.0 692.5,525.6" fill="#111"/>
<polygon points="691.1,535.6 692.5,538.0 692.9,541.6 691.1,543.6 689.3,541.6 689.7,538.0" fill="#111"/>
<text x="687.5" y="531.8" font-size="9" text-anchor="middle" fill="#2a2a2a" stroke="#2a2a2a" stroke-width="0.3" transform="rotate(-90 687.5 531.8)">Ø2.6</text>
<polyline points="947.3,558.9 915.4,558.9 904.3,547" fill="none" stroke="#333" stroke-width="1.2"/>
<polygon points="904.3,547.0 906.7,547.7 909.1,549.7 909.1,552.1 906.7,551.9 904.8,549.4" fill="#111"/>
<text x="921" y="557.8" font-size="8" text-anchor="start" fill="#2a2a2a" stroke="#2a2a2a" stroke-width="0.3">PT1/8</text>
<text x="648.6" y="571.2" font-size="8.9" text-anchor="start" fill="#2a2a2a" stroke="#2a2a2a" stroke-width="0.3">洞气针:X2.6-77</text>
<line x1="699.4" y1="587.7" x2="921.1" y2="587.7" stroke="#333" stroke-width="1.15"/>
<polygon points="699.4,587.7 701.8,586.3 705.4,585.9 707.4,587.7 705.4,589.5 701.8,589.1" fill="#111"/>
<polygon points="921.1,587.7 918.7,589.1 915.1,589.5 913.1,587.7 915.1,585.9 918.7,586.3" fill="#111"/>
<text x="810" y="585" font-size="8.5" text-anchor="middle" fill="#2a2a2a" stroke="#2a2a2a" stroke-width="0.3">76</text>
<line x1="699.4" y1="579.1" x2="699.4" y2="633.8" stroke="#5a5a5a" stroke-width="1.2"/>
<line x1="921.1" y1="579.1" x2="921.1" y2="629" stroke="#5a5a5a" stroke-width="1.2"/>
<rect x="699.4" y="633.8" width="192.80" height="8.40" fill="url(#gN)" stroke="#111" stroke-width="1.5" rx="0"/>
<rect x="700.1999999999999" y="634.5999999999999" width="21.8" height="6.8" fill="#555"/>
<rect x="700.9" y="636.3" width="18.6" height="3.4" fill="#c8c8c8"/>
<ellipse cx="720" cy="638.0" rx="1.5" ry="1.8" fill="#111"/>
<rect x="892.2" y="626.4" width="18.00" height="23.40" fill="url(#gG)" stroke="#111" stroke-width="1.7" rx="0"/>
<rect x="910.2" y="629" width="11.40" height="17.50" fill="url(#gG)" stroke="#111" stroke-width="1.5" rx="0"/>
<line x1="892.2" y1="602.9" x2="921.1" y2="602.9" stroke="#333" stroke-width="1.15"/>
<polygon points="892.2,602.9 894.6,601.5 898.2,601.1 900.2,602.9 898.2,604.7 894.6,604.3" fill="#111"/>
<polygon points="921.1,602.9 918.7,604.3 915.1,604.7 913.1,602.9 915.1,601.1 918.7,601.5" fill="#111"/>
<text x="906.9" y="600" font-size="8.5" text-anchor="middle" fill="#2a2a2a" stroke="#2a2a2a" stroke-width="0.3">10</text>
<line x1="892.2" y1="593" x2="892.2" y2="626.4" stroke="#5a5a5a" stroke-width="1.2"/>
<line x1="895" y1="616" x2="937.5" y2="616" stroke="#333" stroke-width="1.15"/>
<polygon points="909.6,616.0 907.2,617.4 903.6,617.8 901.6,616.0 903.6,614.2 907.2,614.6" fill="#111"/>
<polygon points="921.1,616.0 923.5,614.6 927.1,614.2 929.1,616.0 927.1,617.8 923.5,617.4" fill="#111"/>
<line x1="909.6" y1="606.2" x2="909.6" y2="626.4" stroke="#5a5a5a" stroke-width="1.2"/>
<text x="915.6" y="613.5" font-size="8.5" text-anchor="middle" fill="#2a2a2a" stroke="#2a2a2a" stroke-width="0.3">4</text>
<line x1="921.6" y1="629" x2="947.3" y2="629" stroke="#333" stroke-width="1.15"/>
<line x1="921.6" y1="646.5" x2="947.3" y2="646.5" stroke="#333" stroke-width="1.15"/>
<line x1="937.5" y1="614.9" x2="937.5" y2="660" stroke="#333" stroke-width="1.15"/>
<polygon points="937.5,629.0 936.1,626.6 935.7,623.0 937.5,621.0 939.3,623.0 938.9,626.6" fill="#111"/>
<polygon points="937.5,646.5 938.9,648.9 939.3,652.5 937.5,654.5 935.7,652.5 936.1,648.9" fill="#111"/>
<text x="933.8" y="638.5" font-size="9" text-anchor="middle" fill="#2a2a2a" stroke="#2a2a2a" stroke-width="0.3" transform="rotate(-90 933.8 638.5)">Ø6</text>
<line x1="910.2" y1="626.4" x2="966.9" y2="626.4" stroke="#333" stroke-width="1.15"/>
<line x1="910.2" y1="649.8" x2="966.9" y2="649.8" stroke="#333" stroke-width="1.15"/>
<line x1="957.1" y1="626.4" x2="957.1" y2="649.8" stroke="#333" stroke-width="1.15"/>
<polygon points="957.1,626.4 958.5,628.8 958.9,632.4 957.1,634.4 955.3,632.4 955.7,628.8" fill="#111"/>
<polygon points="957.1,649.8 955.7,647.4 955.3,643.8 957.1,641.8 958.9,643.8 958.5,647.4" fill="#111"/>
<text x="953.3" y="638" font-size="9" text-anchor="middle" fill="#2a2a2a" stroke="#2a2a2a" stroke-width="0.3" transform="rotate(-90 953.3 638)">Ø8</text>
<line x1="675" y1="633.8" x2="699.4" y2="633.8" stroke="#333" stroke-width="1.15"/>
<line x1="675" y1="642.2" x2="699.4" y2="642.2" stroke="#333" stroke-width="1.15"/>
<line x1="683.3" y1="619.3" x2="683.3" y2="654.5" stroke="#333" stroke-width="1.15"/>
<polygon points="683.3,633.8 681.9,631.4 681.5,627.8 683.3,625.8 685.1,627.8 684.7,631.4" fill="#111"/>
<polygon points="683.3,642.2 684.7,644.6 685.1,648.2 683.3,650.2 681.5,648.2 681.9,644.6" fill="#111"/>
<text x="680" y="638" font-size="9" text-anchor="middle" fill="#2a2a2a" stroke="#2a2a2a" stroke-width="0.3" transform="rotate(-90 680 638)">Ø2.6</text>
<text x="663.9" y="676" font-size="8.8" text-anchor="start" fill="#2a2a2a" stroke="#2a2a2a" stroke-width="0.3">洞气针:S2.6-76</text>
<line x1="703.4" y1="694.9" x2="922.2" y2="694.9" stroke="#333" stroke-width="1.15"/>
<polygon points="703.4,694.9 705.8,693.5 709.4,693.1 711.4,694.9 709.4,696.7 705.8,696.3" fill="#111"/>
<polygon points="922.2,694.9 919.8,696.3 916.2,696.7 914.2,694.9 916.2,693.1 919.8,693.5" fill="#111"/>
<text x="813.1" y="691.5" font-size="8.5" text-anchor="middle" fill="#2a2a2a" stroke="#2a2a2a" stroke-width="0.3">76</text>
<line x1="703.4" y1="684.7" x2="703.4" y2="728.4" stroke="#5a5a5a" stroke-width="1.2"/>
<line x1="922.2" y1="684.7" x2="922.2" y2="719.6" stroke="#5a5a5a" stroke-width="1.2"/>
<line x1="850.9" y1="710" x2="922.2" y2="710" stroke="#333" stroke-width="1.15"/>
<polygon points="850.9,710.0 853.3,708.6 856.9,708.2 858.9,710.0 856.9,711.8 853.3,711.4" fill="#111"/>
<polygon points="922.2,710.0 919.8,711.4 916.2,711.8 914.2,710.0 916.2,708.2 919.8,708.6" fill="#111"/>
<text x="886.7" y="706.6" font-size="8.5" text-anchor="middle" fill="#2a2a2a" stroke="#2a2a2a" stroke-width="0.3">25</text>
<line x1="850.9" y1="700.7" x2="850.9" y2="721.7" stroke="#5a5a5a" stroke-width="1.2"/>
<rect x="703.4" y="728.4" width="147.50" height="7.80" fill="url(#gN)" stroke="#111" stroke-width="1.5" rx="0"/>
<rect x="704.1999999999999" y="729.1999999999999" width="21.8" height="6.2" fill="#555"/>
<rect x="704.9" y="730.7" width="18.6" height="3.1" fill="#c8c8c8"/>
<ellipse cx="724" cy="732.3" rx="1.5" ry="1.8" fill="#111"/>
<rect x="858.5" y="726" width="6.50" height="12.00" fill="#2a2410" stroke="#111" stroke-width="0" rx="0"/>
<rect x="850.5" y="721.3" width="9.10" height="20.70" fill="url(#gG)" stroke="#111" stroke-width="1.7" rx="2.5"/>
<line x1="850.5" y1="726" x2="859.6" y2="726" stroke="#333" stroke-width="0.8"/>
<line x1="850.5" y1="737.5" x2="859.6" y2="737.5" stroke="#333" stroke-width="0.8"/>
<rect x="864.3" y="720.1" width="58.20" height="23.00" fill="url(#gG)" stroke="#111" stroke-width="1.8" rx="0"/>
<line x1="922.5" y1="720.1" x2="950" y2="720.1" stroke="#333" stroke-width="1.15"/>
<line x1="922.5" y1="743.1" x2="950" y2="743.1" stroke="#333" stroke-width="1.15"/>
<line x1="940.5" y1="720.1" x2="940.5" y2="743.1" stroke="#333" stroke-width="1.15"/>
<polygon points="940.5,720.1 941.9,722.5 942.3,726.1 940.5,728.1 938.7,726.1 939.1,722.5" fill="#111"/>
<polygon points="940.5,743.1 939.1,740.7 938.7,737.1 940.5,735.1 942.3,737.1 941.9,740.7" fill="#111"/>
<text x="936.3" y="731.6" font-size="9" text-anchor="middle" fill="#2a2a2a" stroke="#2a2a2a" stroke-width="0.3" transform="rotate(-90 936.3 731.6)">Ø8</text>
</svg></body></html>
